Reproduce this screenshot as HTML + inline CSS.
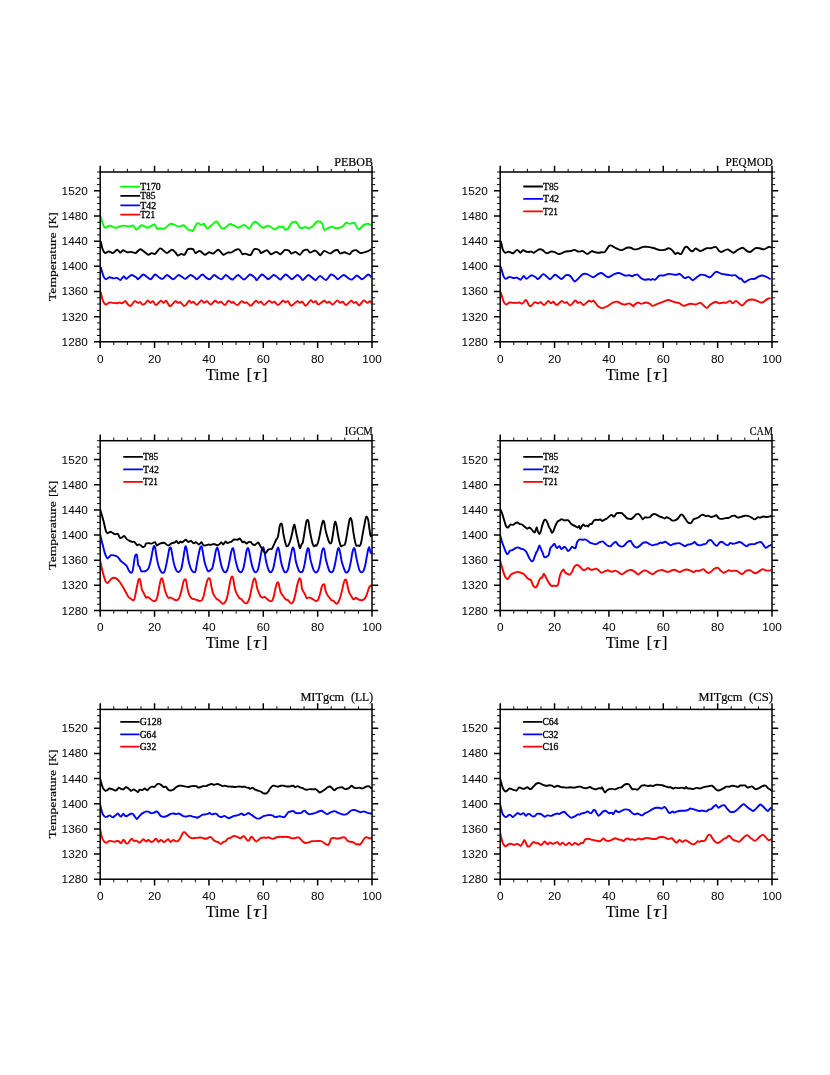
<!DOCTYPE html>
<html lang="en">
<head>
<meta charset="utf-8">
<title>Temperature time series - six model panels</title>
<style>
html, body { margin: 0; padding: 0; background: #ffffff; }
body { width: 830px; height: 1075px; overflow: hidden; font-family: "Liberation Sans", sans-serif; }
svg { display: block; will-change: transform; }
.frame { fill: none; stroke: #000; stroke-width: 1.5; }
.tM { fill: none; stroke: #000; stroke-width: 1.5; }
.tm { fill: none; stroke: #000; stroke-width: 0.95; }
.data path { fill: none; stroke-width: 1.9; stroke-linejoin: round; stroke-linecap: butt; }
.ll { stroke-width: 1.8; stroke-linecap: round; }
.tl { font-family: "Liberation Sans", sans-serif; font-size: 11px; fill: #000; }
.xt { font-family: "Liberation Serif", serif; font-size: 15.8px; fill: #000; stroke: #000; stroke-width: 0.12px; }
.xt .tau { font-style: italic; font-size: 17px; stroke-width: 0.1px; }
.xt .br { font-size: 17.4px; }
.yt { font-family: "Liberation Serif", serif; font-size: 11.4px; fill: #000; stroke: #000; stroke-width: 0.2px; }
.pt { font-family: "Liberation Serif", serif; font-size: 11.6px; fill: #000; stroke: #000; stroke-width: 0.2px; }
.lt { font-family: "Liberation Serif", serif; font-size: 9.4px; fill: #000; stroke: #000; stroke-width: 0.3px; }
</style>
</head>
<body>
<svg width="830" height="1075" viewBox="0 0 830 1075">
<defs><clipPath id="clip0"><rect x="100.2" y="172" width="271.8" height="169.8"/></clipPath><clipPath id="clip1"><rect x="500.2" y="172" width="271.8" height="169.8"/></clipPath><clipPath id="clip2"><rect x="100.2" y="440.7" width="271.8" height="169.8"/></clipPath><clipPath id="clip3"><rect x="500.2" y="440.7" width="271.8" height="169.8"/></clipPath><clipPath id="clip4"><rect x="100.2" y="709.4" width="271.8" height="169.8"/></clipPath><clipPath id="clip5"><rect x="500.2" y="709.4" width="271.8" height="169.8"/></clipPath></defs>
<rect x="0" y="0" width="830" height="1075" fill="#ffffff"/>
<g class="panel" id="p0">
<g class="data" clip-path="url(#clip0)">
<path d="M100.72 291.93C100.98 292.98 102.18 298.82 102.75 300.36C103.32 301.9 104.75 303.76 105.28 304.24C105.8 304.73 106.44 304.47 106.96 304.24C107.49 304.01 108.76 302.55 109.49 302.39C110.23 302.22 111.92 302.79 112.87 302.89C113.82 303 116.24 303.29 117.08 303.23C117.93 303.17 118.98 302.39 119.61 302.39C120.25 302.39 121.41 303.38 122.14 303.23C122.88 303.08 124.78 301.04 125.52 301.2C126.26 301.37 127.42 303.99 128.05 304.58C128.68 305.17 129.73 306.35 130.58 305.93C131.42 305.51 133.85 301.58 134.8 301.2C135.74 300.83 137.49 302.79 138.17 302.89C138.84 303 139.67 301.84 140.19 302.05C140.72 302.26 141.8 304.37 142.39 304.58C142.98 304.79 144.22 304.26 144.92 303.73C145.61 303.21 147.28 300.47 147.95 300.36C148.63 300.26 149.68 302.79 150.31 302.89C150.95 303 152.32 300.93 153.01 301.2C153.71 301.48 154.89 305.15 155.88 305.08C156.87 305.02 159.99 300.97 160.94 300.7C161.89 300.42 162.84 302.89 163.47 302.89C164.1 302.89 165.26 300.34 166 300.7C166.74 301.06 168.74 305.13 169.37 305.76C170.01 306.39 170.32 306.33 171.06 305.76C171.8 305.19 174.37 301.56 175.28 301.2C176.18 300.85 177.68 302.79 178.31 302.89C178.95 303 179.66 301.69 180.34 302.05C181.01 302.41 182.97 305.44 183.71 305.76C184.45 306.08 185.57 305.21 186.24 304.58C186.92 303.95 188.48 300.91 189.11 300.7C189.74 300.49 190.75 302.77 191.3 302.89C191.85 303.02 192.8 301.46 193.49 301.71C194.19 301.96 195.88 305.08 196.87 304.92C197.86 304.75 200.54 300.61 201.42 300.36C202.31 300.11 203.26 302.79 203.95 302.89C204.65 303 206.14 300.99 206.99 301.2C207.83 301.42 209.71 304.64 210.7 304.58C211.69 304.52 213.97 300.91 214.92 300.7C215.86 300.49 217.55 302.77 218.29 302.89C219.03 303.02 219.98 301.44 220.82 301.71C221.66 301.98 224.09 305.21 225.04 305.08C225.98 304.96 227.57 300.97 228.41 300.7C229.25 300.42 231.15 302.77 231.78 302.89C232.42 303.02 233.19 301.71 233.47 301.71C233.75 301.71 233.51 302.47 234 302.89C234.49 303.31 236.42 305.3 237.37 305.08C238.32 304.87 240.7 301.48 241.59 301.2C242.48 300.93 243.83 302.74 244.46 302.89C245.09 303.04 245.85 302.03 246.65 302.39C247.45 302.74 249.71 305.97 250.87 305.76C252.03 305.55 254.98 301.06 255.93 300.7C256.88 300.34 257.83 302.77 258.46 302.89C259.09 303.02 260.25 301.46 260.99 301.71C261.73 301.96 263.35 305.04 264.36 304.92C265.37 304.79 268.14 300.95 269.08 300.7C270.03 300.45 271.28 302.77 271.95 302.89C272.63 303.02 273.7 301.44 274.48 301.71C275.26 301.98 277.14 305.21 278.19 305.08C279.25 304.96 282.01 301.04 282.92 300.7C283.82 300.36 284.81 302.32 285.45 302.39C286.08 302.45 287.24 300.78 287.98 301.2C288.71 301.63 290.19 305.76 291.35 305.76C292.51 305.76 296.2 301.56 297.25 301.2C298.31 300.85 299.15 302.83 299.78 302.89C300.42 302.95 301.58 301.35 302.31 301.71C303.05 302.07 304.63 305.93 305.69 305.76C306.74 305.59 309.8 300.78 310.75 300.36C311.7 299.94 312.64 302.28 313.28 302.39C313.91 302.49 315.17 300.93 315.81 301.2C316.44 301.48 317.28 304.64 318.34 304.58C319.39 304.52 323.19 300.91 324.24 300.7C325.3 300.49 326.14 302.77 326.77 302.89C327.4 303.02 328.56 301.5 329.3 301.71C330.04 301.92 331.68 304.75 332.67 304.58C333.67 304.41 336.28 300.57 337.23 300.36C338.18 300.15 339.57 302.72 340.27 302.89C340.96 303.06 342.06 301.44 342.8 301.71C343.53 301.98 345.11 305.21 346.17 305.08C347.22 304.96 350.28 300.97 351.23 300.7C352.18 300.42 353.13 302.72 353.76 302.89C354.39 303.06 355.61 301.73 356.29 302.05C356.96 302.36 358.21 305.63 359.16 305.42C360.11 305.21 362.87 300.68 363.88 300.36C364.89 300.05 366.52 302.79 367.25 302.89C367.99 303 369.26 301.2 369.78 301.2C370.31 301.2 371.26 302.68 371.47 302.89" stroke="#ff0000"/>
<path d="M100.72 267.07C101.08 268.27 102.92 275.17 103.59 276.69C104.27 278.2 105.38 279.15 106.12 279.22C106.86 279.28 108.55 277.3 109.49 277.19C110.44 277.09 112.76 278.29 113.71 278.37C114.66 278.46 116.24 277.66 117.08 277.87C117.93 278.08 119.61 280.27 120.46 280.06C121.3 279.85 123.09 276.33 123.83 276.18C124.57 276.03 125.41 279.03 126.36 278.88C127.31 278.73 130.16 275.17 131.42 275C132.69 274.83 135.64 277 136.48 277.53C137.33 278.06 137.33 279.6 138.17 279.22C139.01 278.84 142.17 274.81 143.23 274.49C144.28 274.18 145.65 276.1 146.6 276.69C147.55 277.28 149.77 279.49 150.82 279.22C151.87 278.94 153.98 274.7 155.04 274.49C156.09 274.28 158.3 276.98 159.25 277.53C160.2 278.08 161.68 279.2 162.63 278.88C163.58 278.56 165.79 275.13 166.84 275C167.9 274.87 170.22 277.34 171.06 277.87C171.9 278.39 172.64 279.58 173.59 279.22C174.54 278.86 177.49 275.21 178.65 275C179.81 274.79 182.02 277.05 182.87 277.53C183.71 278.02 184.45 279.2 185.4 278.88C186.35 278.56 189.3 275.17 190.46 275C191.62 274.83 193.83 277 194.67 277.53C195.52 278.06 196.26 279.6 197.2 279.22C198.15 278.84 201.11 274.66 202.27 274.49C203.42 274.33 205.53 277.28 206.48 277.87C207.43 278.46 208.91 279.58 209.86 279.22C210.8 278.86 213.02 275.17 214.07 275C215.13 274.83 217.34 277.34 218.29 277.87C219.24 278.39 220.71 279.58 221.66 279.22C222.61 278.86 224.83 275.11 225.88 275C226.93 274.89 229.25 277.8 230.1 278.37C230.94 278.94 232.14 279.55 232.63 279.55C233.11 279.55 233.3 278.94 234 278.37C234.7 277.8 236.95 274.85 238.22 275C239.48 275.15 242.64 279.62 244.12 279.55C245.6 279.49 248.65 274.7 250.02 274.49C251.39 274.28 254.24 277.17 255.08 277.87C255.93 278.56 255.93 280.48 256.77 280.06C257.61 279.64 260.67 274.81 261.83 274.49C262.99 274.18 265.2 276.94 266.05 277.53C266.89 278.12 267.63 279.53 268.58 279.22C269.53 278.9 272.48 275.21 273.64 275C274.8 274.79 277.01 276.96 277.86 277.53C278.7 278.1 279.44 279.93 280.39 279.55C281.33 279.17 284.29 274.75 285.45 274.49C286.61 274.24 288.82 276.94 289.66 277.53C290.51 278.12 291.24 279.53 292.19 279.22C293.14 278.9 296.2 275.21 297.25 275C298.31 274.79 299.93 276.9 300.63 277.53C301.32 278.16 301.87 280.38 302.82 280.06C303.77 279.74 307.02 275.27 308.22 275C309.42 274.73 311.48 277.23 312.43 277.87C313.38 278.5 314.86 280.31 315.81 280.06C316.76 279.81 318.76 275.84 320.02 275.84C321.29 275.84 324.56 280.23 325.93 280.06C327.3 279.89 329.83 274.92 330.99 274.49C332.15 274.07 334.36 276.1 335.2 276.69C336.05 277.28 336.68 279.43 337.73 279.22C338.79 279.01 342.27 275.11 343.64 275C345.01 274.89 347.64 277.8 348.7 278.37C349.75 278.94 351.06 279.91 352.07 279.55C353.08 279.2 355.53 275.55 356.8 275.51C358.06 275.46 360.78 279.34 362.19 279.22C363.61 279.09 366.94 274.75 368.1 274.49C369.26 274.24 371.05 276.86 371.47 277.19" stroke="#0000ff"/>
<path d="M100.72 241.27C100.98 242.32 102.18 248.22 102.75 249.7C103.32 251.17 104.54 252.86 105.28 253.07C106.02 253.28 107.7 251.39 108.65 251.39C109.6 251.39 111.81 253.28 112.87 253.07C113.92 252.86 116.14 249.76 117.08 249.7C118.03 249.64 119.72 252.5 120.46 252.57C121.2 252.63 122.14 250.25 122.99 250.2C123.83 250.16 126.15 252.02 127.2 252.23C128.26 252.44 130.37 251.79 131.42 251.89C132.48 252 134.54 253.41 135.64 253.07C136.73 252.73 139.03 249.3 140.19 249.19C141.35 249.09 143.9 251.53 144.92 252.23C145.93 252.92 147.45 254.65 148.29 254.76C149.13 254.86 150.82 253.18 151.66 253.07C152.51 252.97 154.02 254.48 155.04 253.92C156.05 253.35 158.81 249.05 159.76 248.52C160.71 247.99 161.74 249.13 162.63 249.7C163.51 250.27 165.68 253.07 166.84 253.07C168 253.07 170.85 249.8 171.9 249.7C172.96 249.59 174.54 251.49 175.28 252.23C176.02 252.97 177.07 255.39 177.81 255.6C178.55 255.81 180.34 254.02 181.18 253.92C182.02 253.81 183.71 255.35 184.55 254.76C185.4 254.17 186.87 249.89 187.93 249.19C188.98 248.5 192.04 248.71 192.99 249.19C193.94 249.68 194.67 252.86 195.52 253.07C196.36 253.28 198.58 250.67 199.73 250.88C200.89 251.09 203.64 254.59 204.8 254.76C205.95 254.93 207.96 252.38 209.01 252.23C210.07 252.08 212.07 253.89 213.23 253.58C214.39 253.26 217.02 249.55 218.29 249.7C219.55 249.85 222.19 254.4 223.35 254.76C224.51 255.12 226.62 252.84 227.57 252.57C228.52 252.29 230.14 252.78 230.94 252.57C231.74 252.36 233.2 251.3 234 250.88C234.8 250.46 236.64 249.28 237.37 249.19C238.11 249.11 239.27 249.57 239.9 250.2C240.54 250.84 241.8 253.83 242.43 254.25C243.07 254.67 244.23 253.52 244.96 253.58C245.7 253.64 247.6 254.61 248.34 254.76C249.08 254.91 250.13 255.45 250.87 254.76C251.61 254.06 253.19 249.76 254.24 249.19C255.3 248.62 258.46 249.72 259.3 250.2C260.14 250.69 260.04 253.07 260.99 253.07C261.94 253.07 265.63 250.06 266.89 250.2C268.16 250.35 269.95 254.04 271.11 254.25C272.27 254.46 275.01 251.89 276.17 251.89C277.33 251.89 279.33 254.46 280.39 254.25C281.44 254.04 283.55 250.67 284.6 250.2C285.66 249.74 287.98 250.12 288.82 250.54C289.66 250.96 290.51 253.41 291.35 253.58C292.19 253.75 294.51 251.74 295.57 251.89C296.62 252.04 298.83 254.89 299.78 254.76C300.73 254.63 302.21 251.51 303.16 250.88C304.11 250.25 306.53 249.49 307.37 249.7C308.22 249.91 308.95 252.46 309.9 252.57C310.85 252.67 314.02 250.58 314.96 250.54C315.91 250.5 316.82 251.64 317.49 252.23C318.17 252.82 319.52 255.43 320.36 255.27C321.2 255.1 323.02 251.09 324.24 250.88C325.46 250.67 328.88 253.62 330.14 253.58C331.41 253.54 333.41 250.96 334.36 250.54C335.31 250.12 337 249.83 337.73 250.2C338.47 250.58 339.42 253.33 340.27 253.58C341.11 253.83 343.32 252.14 344.48 252.23C345.64 252.31 348.59 254.36 349.54 254.25C350.49 254.15 351.23 251.89 352.07 251.39C352.92 250.88 355.23 249.99 356.29 250.2C357.34 250.42 359.14 252.92 360.51 253.07C361.88 253.22 365.88 251.87 367.25 251.39C368.62 250.9 370.94 249.47 371.47 249.19" stroke="#000"/>
<path d="M100.72 216.47C100.98 217.36 102.18 222.14 102.75 223.55C103.32 224.97 104.43 227.52 105.28 227.77C106.12 228.02 108.55 225.68 109.49 225.58C110.44 225.47 112.02 226.65 112.87 226.93C113.71 227.2 115.4 227.83 116.24 227.77C117.08 227.71 118.56 226.7 119.61 226.42C120.67 226.15 123.52 225.56 124.67 225.58C125.83 225.6 127.84 226.59 128.89 226.59C129.95 226.59 132.16 225.22 133.11 225.58C134.06 225.94 135.43 229.5 136.48 229.46C137.54 229.42 140.59 225.66 141.54 225.24C142.49 224.82 143.33 225.77 144.07 226.08C144.81 226.4 146.6 227.77 147.45 227.77C148.29 227.77 149.98 226.51 150.82 226.08C151.66 225.66 153.35 224.04 154.19 224.4C155.04 224.76 156.83 228.47 157.57 228.95C158.3 229.44 159.25 228.32 160.1 228.28C160.94 228.23 163.05 229.16 164.31 228.61C165.58 228.07 169.06 224.42 170.22 223.89C171.38 223.36 172.54 224.06 173.59 224.4C174.64 224.73 177.39 226.48 178.65 226.59C179.92 226.7 182.55 224.88 183.71 225.24C184.87 225.6 186.98 228.83 187.93 229.46C188.88 230.09 190.67 230.15 191.3 230.3C191.93 230.45 192.25 231.52 192.99 230.64C193.73 229.75 196.15 223.93 197.2 223.22C198.26 222.5 200.58 224.82 201.42 224.9C202.27 224.99 203.21 223.43 203.95 223.89C204.69 224.36 206.27 228.55 207.33 228.61C208.38 228.68 211.23 225.3 212.39 224.4C213.55 223.49 215.44 220.88 216.6 221.36C217.76 221.85 220.61 227.48 221.66 228.28C222.72 229.08 223.98 228.32 225.04 227.77C226.09 227.22 229.15 224.21 230.1 223.89C231.05 223.58 232.14 225.07 232.63 225.24C233.11 225.41 233.3 224.92 234 225.24C234.7 225.56 236.95 227.81 238.22 227.77C239.48 227.73 242.75 224.8 244.12 224.9C245.49 225.01 248.13 228.78 249.18 228.61C250.23 228.45 251.71 224.4 252.55 223.55C253.4 222.71 254.66 221.34 255.93 221.87C257.19 222.39 261.09 227.31 262.67 227.77C264.26 228.23 267.1 225.37 268.58 225.58C270.05 225.79 273.22 229.33 274.48 229.46C275.75 229.58 277.86 226.86 278.7 226.59C279.54 226.32 280.66 227.27 281.23 227.27C281.8 227.27 282.83 226.32 283.25 226.59C283.67 226.86 284.01 229.2 284.6 229.46C285.19 229.71 287.13 229.39 287.98 228.61C288.82 227.83 290.34 224.06 291.35 223.22C292.36 222.37 295.02 221.3 296.07 221.87C297.13 222.44 298.9 227.03 299.78 227.77C300.67 228.51 302.42 227.88 303.16 227.77C303.89 227.67 305.05 226.86 305.69 226.93C306.32 226.99 307.37 228.32 308.22 228.28C309.06 228.23 311.38 227.39 312.43 226.59C313.49 225.79 315.7 222.5 316.65 221.87C317.6 221.23 319.29 221.21 320.02 221.53C320.76 221.85 322.03 223.34 322.55 224.4C323.08 225.45 323.61 229.48 324.24 229.96C324.87 230.45 326.67 228.7 327.61 228.28C328.56 227.86 330.88 226.59 331.83 226.59C332.78 226.59 333.94 228.23 335.2 228.28C336.47 228.32 340.58 227.62 341.95 226.93C343.32 226.23 345.22 223.09 346.17 222.71C347.12 222.33 348.55 223.89 349.54 223.89C350.53 223.89 353.25 222.44 354.1 222.71C354.94 222.98 355.7 225.24 356.29 226.08C356.88 226.93 357.87 229.61 358.82 229.46C359.77 229.31 362.72 225.6 363.88 224.9C365.04 224.21 367.15 223.85 368.1 223.89C369.05 223.93 371.05 225.07 371.47 225.24" stroke="#00ff00"/>
</g>
<path class="tM" d="M100.2 341.8L100.2 348 M100.2 172L100.2 165.8 M154.56 341.8L154.56 348 M154.56 172L154.56 165.8 M208.92 341.8L208.92 348 M208.92 172L208.92 165.8 M263.28 341.8L263.28 348 M263.28 172L263.28 165.8 M317.64 341.8L317.64 348 M317.64 172L317.64 165.8 M372 341.8L372 348 M372 172L372 165.8 M100.2 341.8L94 341.8 M372 341.8L378.2 341.8 M100.2 316.64L94 316.64 M372 316.64L378.2 316.64 M100.2 291.49L94 291.49 M372 291.49L378.2 291.49 M100.2 266.33L94 266.33 M372 266.33L378.2 266.33 M100.2 241.18L94 241.18 M372 241.18L378.2 241.18 M100.2 216.02L94 216.02 M372 216.02L378.2 216.02 M100.2 190.87L94 190.87 M372 190.87L378.2 190.87"/>
<path class="tm" d="M113.79 341.8L113.79 345 M113.79 172L113.79 168.8 M127.38 341.8L127.38 345 M127.38 172L127.38 168.8 M140.97 341.8L140.97 345 M140.97 172L140.97 168.8 M168.15 341.8L168.15 345 M168.15 172L168.15 168.8 M181.74 341.8L181.74 345 M181.74 172L181.74 168.8 M195.33 341.8L195.33 345 M195.33 172L195.33 168.8 M222.51 341.8L222.51 345 M222.51 172L222.51 168.8 M236.1 341.8L236.1 345 M236.1 172L236.1 168.8 M249.69 341.8L249.69 345 M249.69 172L249.69 168.8 M276.87 341.8L276.87 345 M276.87 172L276.87 168.8 M290.46 341.8L290.46 345 M290.46 172L290.46 168.8 M304.05 341.8L304.05 345 M304.05 172L304.05 168.8 M331.23 341.8L331.23 345 M331.23 172L331.23 168.8 M344.82 341.8L344.82 345 M344.82 172L344.82 168.8 M358.41 341.8L358.41 345 M358.41 172L358.41 168.8 M100.2 335.51L97 335.51 M372 335.51L375.2 335.51 M100.2 329.22L97 329.22 M372 329.22L375.2 329.22 M100.2 322.93L97 322.93 M372 322.93L375.2 322.93 M100.2 310.36L97 310.36 M372 310.36L375.2 310.36 M100.2 304.07L97 304.07 M372 304.07L375.2 304.07 M100.2 297.78L97 297.78 M372 297.78L375.2 297.78 M100.2 285.2L97 285.2 M372 285.2L375.2 285.2 M100.2 278.91L97 278.91 M372 278.91L375.2 278.91 M100.2 272.62L97 272.62 M372 272.62L375.2 272.62 M100.2 260.04L97 260.04 M372 260.04L375.2 260.04 M100.2 253.76L97 253.76 M372 253.76L375.2 253.76 M100.2 247.47L97 247.47 M372 247.47L375.2 247.47 M100.2 234.89L97 234.89 M372 234.89L375.2 234.89 M100.2 228.6L97 228.6 M372 228.6L375.2 228.6 M100.2 222.31L97 222.31 M372 222.31L375.2 222.31 M100.2 209.73L97 209.73 M372 209.73L375.2 209.73 M100.2 203.44L97 203.44 M372 203.44L375.2 203.44 M100.2 197.16L97 197.16 M372 197.16L375.2 197.16 M100.2 184.58L97 184.58 M372 184.58L375.2 184.58 M100.2 178.29L97 178.29 M372 178.29L375.2 178.29 M100.2 172L97 172 M372 172L375.2 172"/>
<rect class="frame" x="100.2" y="172" width="271.8" height="169.8"/>
<text class="tl" x="100.2" y="362.5" text-anchor="middle" textLength="6.6" lengthAdjust="spacingAndGlyphs">0</text>
<text class="tl" x="154.56" y="362.5" text-anchor="middle" textLength="13.2" lengthAdjust="spacingAndGlyphs">20</text>
<text class="tl" x="208.92" y="362.5" text-anchor="middle" textLength="13.2" lengthAdjust="spacingAndGlyphs">40</text>
<text class="tl" x="263.28" y="362.5" text-anchor="middle" textLength="13.2" lengthAdjust="spacingAndGlyphs">60</text>
<text class="tl" x="317.64" y="362.5" text-anchor="middle" textLength="13.2" lengthAdjust="spacingAndGlyphs">80</text>
<text class="tl" x="372" y="362.5" text-anchor="middle" textLength="19.6" lengthAdjust="spacingAndGlyphs">100</text>
<text class="tl" x="87.8" y="345.8" text-anchor="end" textLength="26.2" lengthAdjust="spacingAndGlyphs">1280</text>
<text class="tl" x="87.8" y="320.64" text-anchor="end" textLength="26.2" lengthAdjust="spacingAndGlyphs">1320</text>
<text class="tl" x="87.8" y="295.49" text-anchor="end" textLength="26.2" lengthAdjust="spacingAndGlyphs">1360</text>
<text class="tl" x="87.8" y="270.33" text-anchor="end" textLength="26.2" lengthAdjust="spacingAndGlyphs">1400</text>
<text class="tl" x="87.8" y="245.18" text-anchor="end" textLength="26.2" lengthAdjust="spacingAndGlyphs">1440</text>
<text class="tl" x="87.8" y="220.02" text-anchor="end" textLength="26.2" lengthAdjust="spacingAndGlyphs">1480</text>
<text class="tl" x="87.8" y="194.87" text-anchor="end" textLength="26.2" lengthAdjust="spacingAndGlyphs">1520</text>
<text class="xt" y="379.7"><tspan x="205.7" textLength="33.9" lengthAdjust="spacingAndGlyphs">Time</tspan><tspan class="br" x="246.4">[</tspan><tspan class="tau" x="253.1" textLength="7.6" lengthAdjust="spacingAndGlyphs">&#964;</tspan><tspan class="br" x="261.7">]</tspan></text>
<text class="yt" transform="translate(56.2 256.9) rotate(-90)"><tspan x="-44.1" textLength="68.5" lengthAdjust="spacingAndGlyphs">Temperature</tspan><tspan x="28.9" textLength="15.6" lengthAdjust="spacingAndGlyphs">[K]</tspan></text>
<text class="pt" x="372.9" y="165.9" text-anchor="end" textLength="38.6" lengthAdjust="spacingAndGlyphs">PEBOB</text>
<line class="ll" x1="121.1" y1="186.65" x2="139.4" y2="186.65" stroke="#00ff00"/>
<text class="lt" x="140.2" y="189.85" textLength="20.5" lengthAdjust="spacingAndGlyphs">T170</text>
<line class="ll" x1="121.1" y1="195.95" x2="139.4" y2="195.95" stroke="#000"/>
<text class="lt" x="140.2" y="199.15" textLength="15.3" lengthAdjust="spacingAndGlyphs">T85</text>
<line class="ll" x1="121.1" y1="205.3" x2="139.4" y2="205.3" stroke="#0000ff"/>
<text class="lt" x="140.2" y="208.5" textLength="16.0" lengthAdjust="spacingAndGlyphs">T42</text>
<line class="ll" x1="121.1" y1="214.65" x2="139.4" y2="214.65" stroke="#ff0000"/>
<text class="lt" x="140.2" y="217.85" textLength="14.9" lengthAdjust="spacingAndGlyphs">T21</text>
</g>
<g class="panel" id="p1">
<g class="data" clip-path="url(#clip1)">
<path d="M500.72 292.07C501.08 293.27 502.92 300.13 503.59 301.69C504.27 303.25 505.38 304.45 506.12 304.55C506.86 304.66 508.65 302.74 509.49 302.53C510.34 302.32 511.92 302.83 512.87 302.87C513.82 302.91 516.24 302.91 517.08 302.87C517.93 302.83 518.98 302.42 519.61 302.53C520.25 302.64 521.34 304.03 522.14 303.71C522.95 303.39 525.18 299.83 526.02 300C526.87 300.17 528.26 304.32 528.89 305.06C529.52 305.8 530.35 306.26 531.08 305.9C531.82 305.55 533.91 302.51 534.8 302.19C535.68 301.88 537.43 303.37 538.17 303.37C538.91 303.37 539.96 301.98 540.7 302.19C541.44 302.4 543.12 305.23 544.07 305.06C545.02 304.89 547.45 301.05 548.29 300.84C549.13 300.63 550.19 303.27 550.82 303.37C551.45 303.48 552.61 301.48 553.35 301.69C554.09 301.9 555.67 305.17 556.72 305.06C557.78 304.95 560.83 301.12 561.78 300.84C562.73 300.57 563.68 302.7 564.31 302.87C564.95 303.04 566.11 301.88 566.84 302.19C567.58 302.51 569.16 305.61 570.22 305.4C571.27 305.19 574.33 300.82 575.28 300.51C576.23 300.19 577.17 302.66 577.81 302.87C578.44 303.08 579.6 301.92 580.34 302.19C581.08 302.47 582.66 305.23 583.71 305.06C584.77 304.89 587.82 301.27 588.77 300.84C589.72 300.42 590.67 301.69 591.3 301.69C591.93 301.69 592.99 300.27 593.83 300.84C594.67 301.41 596.99 305.33 598.05 306.24C599.1 307.15 601.11 308.1 602.27 308.1C603.42 308.1 606.06 306.89 607.33 306.24C608.59 305.59 611.12 303.44 612.39 302.87C613.65 302.3 616.18 301.52 617.45 301.69C618.71 301.86 621.56 303.86 622.51 304.22C623.45 304.58 624.19 304.66 625.04 304.55C625.88 304.45 628.2 303.16 629.25 303.37C630.31 303.58 632.88 306.03 633.47 306.24C634.06 306.45 633.41 305.52 634 305.06C634.59 304.6 637.27 302.68 638.22 302.53C639.17 302.38 640.64 303.88 641.59 303.88C642.54 303.88 644.75 302.53 645.81 302.53C646.86 302.53 649.18 303.46 650.02 303.88C650.87 304.3 651.61 305.9 652.55 305.9C653.5 305.9 656.24 304.41 657.61 303.88C658.98 303.35 662.15 302.17 663.52 301.69C664.89 301.2 667.21 299.94 668.58 300C669.95 300.06 673.22 301.83 674.48 302.19C675.75 302.55 677.54 302.4 678.7 302.87C679.86 303.33 682.28 305.8 683.76 305.9C685.23 306.01 689.03 303.88 690.51 303.71C691.98 303.54 694.3 304.66 695.57 304.55C696.83 304.45 699.26 302.45 700.63 302.87C702 303.29 705.27 307.76 706.53 307.93C707.8 308.1 709.59 305 710.75 304.22C711.91 303.44 714.75 301.79 715.81 301.69C716.86 301.58 718.23 303.27 719.18 303.37C720.13 303.48 722.55 302.59 723.4 302.53C724.24 302.47 725.08 303.08 725.93 302.87C726.77 302.66 729.3 300.78 730.14 300.84C730.99 300.91 731.94 303.37 732.67 303.37C733.41 303.37 734.89 300.57 736.05 300.84C737.21 301.12 740.58 305.57 741.95 305.57C743.32 305.57 745.75 301.6 747.01 300.84C748.28 300.08 750.81 299.49 752.07 299.49C753.34 299.49 756.08 300.46 757.13 300.84C758.19 301.22 759.77 302.36 760.51 302.53C761.24 302.7 762.19 302.61 763.04 302.19C763.88 301.77 766.3 299.68 767.25 299.16C768.2 298.63 770.2 298.12 770.63 297.98" stroke="#ff0000"/>
<path d="M500.72 266.77C501.08 267.97 502.96 274.87 503.59 276.39C504.22 277.9 505.05 278.85 505.78 278.92C506.52 278.98 508.5 277 509.49 276.89C510.48 276.79 512.76 277.99 513.71 278.07C514.66 278.16 516.24 277.36 517.08 277.57C517.93 277.78 519.61 279.97 520.46 279.76C521.3 279.55 523.09 275.98 523.83 275.88C524.57 275.77 525.41 279 526.36 278.92C527.31 278.83 530.26 275.42 531.42 275.2C532.58 274.99 534.8 276.77 535.64 277.23C536.48 277.69 537.22 279.3 538.17 278.92C539.12 278.54 542.17 274.51 543.23 274.19C544.28 273.88 545.76 275.75 546.6 276.39C547.45 277.02 548.92 279.46 549.98 279.25C551.03 279.04 553.88 274.91 555.04 274.7C556.2 274.49 558.41 277.04 559.25 277.57C560.1 278.09 560.94 279.21 561.78 278.92C562.63 278.62 564.95 275.58 566 275.2C567.05 274.83 569.16 275.1 570.22 275.88C571.27 276.66 573.48 281.07 574.43 281.45C575.38 281.83 576.75 279.82 577.81 278.92C578.86 278.01 581.71 274.78 582.87 274.19C584.03 273.6 585.82 273.81 587.08 274.19C588.35 274.57 591.72 277.17 592.99 277.23C594.25 277.29 596.15 275.23 597.2 274.7C598.26 274.17 600.05 272.7 601.42 273.01C602.79 273.33 606.59 277.08 608.17 277.23C609.75 277.38 612.7 274.72 614.07 274.19C615.44 273.67 617.76 272.84 619.13 273.01C620.5 273.18 623.77 275.27 625.04 275.54C626.3 275.82 628.3 275.1 629.25 275.2C630.2 275.31 632.03 276.39 632.63 276.39C633.22 276.39 633.41 275.42 634 275.2C634.59 274.99 636.42 274.28 637.37 274.7C638.32 275.12 640.64 277.95 641.59 278.58C642.54 279.21 644.12 279.67 644.96 279.76C645.81 279.84 647.6 279.25 648.34 279.25C649.08 279.25 650.3 279.8 650.87 279.76C651.44 279.72 652.36 278.92 652.89 278.92C653.42 278.92 654.28 280.18 655.08 279.76C655.89 279.34 658.25 276.07 659.3 275.54C660.36 275.02 662.36 275.75 663.52 275.54C664.68 275.33 667.21 273.96 668.58 273.86C669.95 273.75 673.43 274.59 674.48 274.7C675.54 274.8 676.34 274.8 677.01 274.7C677.69 274.59 678.93 273.43 679.88 273.86C680.83 274.28 683.59 277.69 684.6 278.07C685.61 278.45 687.34 276.95 687.98 276.89C688.61 276.83 689.07 277.14 689.66 277.57C690.25 277.99 691.75 280.35 692.7 280.27C693.65 280.18 696.26 277.59 697.25 276.89C698.24 276.2 699.68 274.91 700.63 274.7C701.58 274.49 703.89 274.93 704.84 275.2C705.79 275.48 707.48 276.68 708.22 276.89C708.95 277.1 709.8 277.52 710.75 276.89C711.7 276.26 714.44 272.21 715.81 271.83C717.18 271.45 720.23 273.5 721.71 273.86C723.19 274.21 726.35 274.49 727.61 274.7C728.88 274.91 730.88 275.48 731.83 275.54C732.78 275.61 734.26 274.83 735.2 275.2C736.15 275.58 738.68 278.16 739.42 278.58C740.16 279 740.48 278.11 741.11 278.58C741.74 279.04 743.53 282.14 744.48 282.29C745.43 282.44 747.75 280.18 748.7 279.76C749.65 279.34 751.33 279.02 752.07 278.92C752.81 278.81 753.76 279.23 754.6 278.92C755.45 278.6 757.87 276.81 758.82 276.39C759.77 275.96 761.24 275.48 762.19 275.54C763.14 275.61 765.36 276.43 766.41 276.89C767.46 277.36 770.1 278.96 770.63 279.25" stroke="#0000ff"/>
<path d="M500.72 240.96C500.98 242.02 502.18 247.92 502.75 249.4C503.32 250.87 504.54 252.5 505.28 252.77C506.02 253.05 507.7 251.53 508.65 251.59C509.6 251.65 511.81 253.49 512.87 253.28C513.92 253.07 516.14 249.97 517.08 249.9C518.03 249.84 519.72 252.73 520.46 252.77C521.2 252.81 522.14 250.35 522.99 250.24C523.83 250.14 526.15 251.76 527.2 251.93C528.26 252.1 530.58 251.48 531.42 251.59C532.27 251.7 533 253.05 533.95 252.77C534.9 252.5 537.96 249.76 539.01 249.4C540.07 249.04 541.44 249.42 542.39 249.9C543.33 250.39 545.55 253.07 546.6 253.28C547.66 253.49 549.87 251.76 550.82 251.59C551.77 251.42 553.24 251.61 554.19 251.93C555.14 252.24 557.57 253.91 558.41 254.12C559.25 254.33 560.1 253.93 560.94 253.61C561.78 253.3 564 251.91 565.16 251.59C566.32 251.27 569.06 251.3 570.22 251.08C571.38 250.87 573.38 249.84 574.43 249.9C575.49 249.97 577.6 251.44 578.65 251.59C579.7 251.74 581.81 250.79 582.87 251.08C583.92 251.38 585.97 253.95 587.08 253.95C588.2 253.95 590.96 251.34 591.81 251.08C592.65 250.83 593.05 251.72 593.83 251.93C594.61 252.14 597.1 252.73 598.05 252.77C599 252.81 600.58 252.37 601.42 252.27C602.27 252.16 603.85 252.71 604.8 251.93C605.74 251.15 608.17 246.8 609.01 246.02C609.86 245.24 610.7 245.41 611.54 245.69C612.39 245.96 614.7 247.69 615.76 248.22C616.81 248.74 619.13 249.69 619.98 249.9C620.82 250.11 621.66 250.18 622.51 249.9C623.35 249.63 625.67 247.98 626.72 247.71C627.78 247.44 630.03 247.5 630.94 247.71C631.85 247.92 632.98 249.29 634 249.4C635.02 249.5 637.9 248.87 639.06 248.55C640.22 248.24 642.22 247.08 643.28 246.87C644.33 246.66 646.12 246.7 647.49 246.87C648.86 247.04 652.77 247.84 654.24 248.22C655.72 248.6 658.04 249.69 659.3 249.9C660.57 250.11 663.2 250.11 664.36 249.9C665.52 249.69 667.63 248.22 668.58 248.22C669.53 248.22 671.11 249.19 671.95 249.9C672.8 250.62 674.63 253.59 675.33 253.95C676.02 254.31 676.78 252.77 677.52 252.77C678.26 252.77 680.34 254.58 681.23 253.95C682.11 253.32 683.86 248.6 684.6 247.71C685.34 246.83 686.39 246.51 687.13 246.87C687.87 247.23 689.77 250.05 690.51 250.58C691.24 251.11 692.4 251.34 693.04 251.08C693.67 250.83 694.62 248.55 695.57 248.55C696.52 248.55 699.26 251.13 700.63 251.08C702 251.04 705.27 248.58 706.53 248.22C707.8 247.86 709.59 248.39 710.75 248.22C711.91 248.05 714.75 246.51 715.81 246.87C716.86 247.23 718.44 250.45 719.18 251.08C719.92 251.72 720.66 252.14 721.71 251.93C722.77 251.72 726.14 249.29 727.61 249.4C729.09 249.5 732.25 252.71 733.52 252.77C734.78 252.83 736.58 250.54 737.73 249.9C738.89 249.27 741.64 247.56 742.8 247.71C743.95 247.86 746.06 250.56 747.01 251.08C747.96 251.61 749.33 252.29 750.39 251.93C751.44 251.57 754.29 248.68 755.45 248.22C756.61 247.75 758.61 248.07 759.66 248.22C760.72 248.36 762.72 249.57 763.88 249.4C765.04 249.23 767.99 247.08 768.94 246.87C769.89 246.66 771.15 247.61 771.47 247.71" stroke="#000"/>
</g>
<path class="tM" d="M500.2 341.8L500.2 348 M500.2 172L500.2 165.8 M554.56 341.8L554.56 348 M554.56 172L554.56 165.8 M608.92 341.8L608.92 348 M608.92 172L608.92 165.8 M663.28 341.8L663.28 348 M663.28 172L663.28 165.8 M717.64 341.8L717.64 348 M717.64 172L717.64 165.8 M772 341.8L772 348 M772 172L772 165.8 M500.2 341.8L494 341.8 M772 341.8L778.2 341.8 M500.2 316.64L494 316.64 M772 316.64L778.2 316.64 M500.2 291.49L494 291.49 M772 291.49L778.2 291.49 M500.2 266.33L494 266.33 M772 266.33L778.2 266.33 M500.2 241.18L494 241.18 M772 241.18L778.2 241.18 M500.2 216.02L494 216.02 M772 216.02L778.2 216.02 M500.2 190.87L494 190.87 M772 190.87L778.2 190.87"/>
<path class="tm" d="M513.79 341.8L513.79 345 M513.79 172L513.79 168.8 M527.38 341.8L527.38 345 M527.38 172L527.38 168.8 M540.97 341.8L540.97 345 M540.97 172L540.97 168.8 M568.15 341.8L568.15 345 M568.15 172L568.15 168.8 M581.74 341.8L581.74 345 M581.74 172L581.74 168.8 M595.33 341.8L595.33 345 M595.33 172L595.33 168.8 M622.51 341.8L622.51 345 M622.51 172L622.51 168.8 M636.1 341.8L636.1 345 M636.1 172L636.1 168.8 M649.69 341.8L649.69 345 M649.69 172L649.69 168.8 M676.87 341.8L676.87 345 M676.87 172L676.87 168.8 M690.46 341.8L690.46 345 M690.46 172L690.46 168.8 M704.05 341.8L704.05 345 M704.05 172L704.05 168.8 M731.23 341.8L731.23 345 M731.23 172L731.23 168.8 M744.82 341.8L744.82 345 M744.82 172L744.82 168.8 M758.41 341.8L758.41 345 M758.41 172L758.41 168.8 M500.2 335.51L497 335.51 M772 335.51L775.2 335.51 M500.2 329.22L497 329.22 M772 329.22L775.2 329.22 M500.2 322.93L497 322.93 M772 322.93L775.2 322.93 M500.2 310.36L497 310.36 M772 310.36L775.2 310.36 M500.2 304.07L497 304.07 M772 304.07L775.2 304.07 M500.2 297.78L497 297.78 M772 297.78L775.2 297.78 M500.2 285.2L497 285.2 M772 285.2L775.2 285.2 M500.2 278.91L497 278.91 M772 278.91L775.2 278.91 M500.2 272.62L497 272.62 M772 272.62L775.2 272.62 M500.2 260.04L497 260.04 M772 260.04L775.2 260.04 M500.2 253.76L497 253.76 M772 253.76L775.2 253.76 M500.2 247.47L497 247.47 M772 247.47L775.2 247.47 M500.2 234.89L497 234.89 M772 234.89L775.2 234.89 M500.2 228.6L497 228.6 M772 228.6L775.2 228.6 M500.2 222.31L497 222.31 M772 222.31L775.2 222.31 M500.2 209.73L497 209.73 M772 209.73L775.2 209.73 M500.2 203.44L497 203.44 M772 203.44L775.2 203.44 M500.2 197.16L497 197.16 M772 197.16L775.2 197.16 M500.2 184.58L497 184.58 M772 184.58L775.2 184.58 M500.2 178.29L497 178.29 M772 178.29L775.2 178.29 M500.2 172L497 172 M772 172L775.2 172"/>
<rect class="frame" x="500.2" y="172" width="271.8" height="169.8"/>
<text class="tl" x="500.2" y="362.5" text-anchor="middle" textLength="6.6" lengthAdjust="spacingAndGlyphs">0</text>
<text class="tl" x="554.56" y="362.5" text-anchor="middle" textLength="13.2" lengthAdjust="spacingAndGlyphs">20</text>
<text class="tl" x="608.92" y="362.5" text-anchor="middle" textLength="13.2" lengthAdjust="spacingAndGlyphs">40</text>
<text class="tl" x="663.28" y="362.5" text-anchor="middle" textLength="13.2" lengthAdjust="spacingAndGlyphs">60</text>
<text class="tl" x="717.64" y="362.5" text-anchor="middle" textLength="13.2" lengthAdjust="spacingAndGlyphs">80</text>
<text class="tl" x="772" y="362.5" text-anchor="middle" textLength="19.6" lengthAdjust="spacingAndGlyphs">100</text>
<text class="tl" x="487.8" y="345.8" text-anchor="end" textLength="26.2" lengthAdjust="spacingAndGlyphs">1280</text>
<text class="tl" x="487.8" y="320.64" text-anchor="end" textLength="26.2" lengthAdjust="spacingAndGlyphs">1320</text>
<text class="tl" x="487.8" y="295.49" text-anchor="end" textLength="26.2" lengthAdjust="spacingAndGlyphs">1360</text>
<text class="tl" x="487.8" y="270.33" text-anchor="end" textLength="26.2" lengthAdjust="spacingAndGlyphs">1400</text>
<text class="tl" x="487.8" y="245.18" text-anchor="end" textLength="26.2" lengthAdjust="spacingAndGlyphs">1440</text>
<text class="tl" x="487.8" y="220.02" text-anchor="end" textLength="26.2" lengthAdjust="spacingAndGlyphs">1480</text>
<text class="tl" x="487.8" y="194.87" text-anchor="end" textLength="26.2" lengthAdjust="spacingAndGlyphs">1520</text>
<text class="xt" y="379.7"><tspan x="605.7" textLength="33.9" lengthAdjust="spacingAndGlyphs">Time</tspan><tspan class="br" x="646.4">[</tspan><tspan class="tau" x="653.1" textLength="7.6" lengthAdjust="spacingAndGlyphs">&#964;</tspan><tspan class="br" x="661.7">]</tspan></text>
<text class="pt" x="772.9" y="165.9" text-anchor="end" textLength="47.4" lengthAdjust="spacingAndGlyphs">PEQMOD</text>
<line class="ll" x1="524" y1="186.5" x2="542.3" y2="186.5" stroke="#000"/>
<text class="lt" x="543.1" y="189.7" textLength="15.4" lengthAdjust="spacingAndGlyphs">T85</text>
<line class="ll" x1="524" y1="198.9" x2="542.3" y2="198.9" stroke="#0000ff"/>
<text class="lt" x="543.1" y="202.1" textLength="16.0" lengthAdjust="spacingAndGlyphs">T42</text>
<line class="ll" x1="524" y1="211.4" x2="542.3" y2="211.4" stroke="#ff0000"/>
<text class="lt" x="543.1" y="214.6" textLength="14.9" lengthAdjust="spacingAndGlyphs">T21</text>
</g>
<g class="panel" id="p2">
<g class="data" clip-path="url(#clip2)">
<path d="M100.22 560.84C100.44 561.9 101.57 567.39 102.02 569.28C102.48 571.16 103.38 574.4 103.83 575.9C104.28 577.41 105.19 580.42 105.64 581.33C106.09 582.23 106.99 583.13 107.45 583.13C107.9 583.13 108.8 581.85 109.25 581.33C109.7 580.8 110.46 579.37 111.06 578.92C111.66 578.46 113.32 577.71 114.07 577.71C114.83 577.71 116.33 578.31 117.08 578.92C117.84 579.52 119.34 581.48 120.1 582.53C120.85 583.58 122.36 586.07 123.11 587.35C123.86 588.63 125.44 591.57 126.12 592.77C126.8 593.98 127.93 596.23 128.53 596.99C129.13 597.74 130.41 598.39 130.94 598.8C131.47 599.2 132.33 600.17 132.75 600.24C133.17 600.32 133.97 600.18 134.31 599.4C134.66 598.61 135.19 595.56 135.52 593.98C135.85 592.39 136.6 588.48 136.96 586.75C137.33 585.02 138.08 581.1 138.41 580.12C138.74 579.14 139.31 578.54 139.61 578.92C139.92 579.29 140.55 581.85 140.82 583.13C141.09 584.41 141.44 587.95 141.78 589.16C142.13 590.36 143.06 591.72 143.59 592.77C144.12 593.83 145.47 597.06 146 597.59C146.53 598.12 147.28 596.84 147.81 596.99C148.33 597.14 149.54 598.3 150.22 598.8C150.89 599.29 152.55 600.74 153.23 600.96C153.91 601.19 155.11 601.17 155.64 600.6C156.17 600.03 156.99 598.12 157.45 596.39C157.9 594.65 158.83 588.86 159.25 586.75C159.67 584.64 160.47 580.57 160.82 579.52C161.17 578.46 161.72 578.01 162.02 578.31C162.33 578.61 162.9 580.57 163.23 581.93C163.56 583.28 164.27 587.58 164.67 589.16C165.08 590.74 166.03 593.49 166.48 594.58C166.93 595.66 167.76 597.45 168.29 597.83C168.82 598.21 170.02 597.39 170.7 597.59C171.38 597.79 172.96 599.07 173.71 599.4C174.46 599.73 176.05 600.39 176.72 600.24C177.4 600.09 178.53 599.43 179.13 598.19C179.73 596.96 181.02 592.39 181.54 590.36C182.07 588.33 182.93 583.31 183.35 581.93C183.77 580.54 184.57 579.43 184.92 579.28C185.26 579.13 185.79 579.49 186.12 580.72C186.45 581.96 187.16 587.35 187.57 589.16C187.97 590.96 188.85 594.01 189.37 595.18C189.9 596.36 191.18 598.07 191.78 598.55C192.39 599.04 193.67 598.89 194.19 599.04C194.72 599.19 195.62 599.64 196 599.76C196.38 599.88 196.77 599.85 197.23 600C197.68 600.15 199.04 600.96 199.64 600.96C200.24 600.96 201.52 600.72 202.05 600C202.58 599.28 203.4 596.84 203.86 595.18C204.31 593.52 205.21 588.63 205.66 586.75C206.11 584.86 207.05 581.2 207.47 580.12C207.89 579.04 208.69 578.07 209.04 578.07C209.38 578.07 209.94 579.04 210.24 580.12C210.54 581.2 211.11 585.17 211.45 586.75C211.78 588.33 212.48 591.57 212.89 592.77C213.3 593.98 214.25 595.63 214.7 596.39C215.15 597.14 215.98 598.31 216.51 598.8C217.03 599.28 218.34 599.79 218.92 600.24C219.49 600.69 220.6 601.96 221.08 602.41C221.57 602.86 222.29 603.86 222.77 603.86C223.25 603.86 224.44 603.04 224.94 602.41C225.44 601.78 226.3 600.3 226.75 598.8C227.2 597.29 228.1 592.62 228.55 590.36C229.01 588.1 229.94 582.45 230.36 580.72C230.78 578.99 231.58 576.81 231.93 576.51C232.27 576.2 232.83 577.18 233.13 578.31C233.43 579.44 234.01 583.89 234.34 585.54C234.67 587.2 235.38 590.36 235.78 591.57C236.19 592.77 237.14 594.35 237.59 595.18C238.04 596.01 238.95 597.71 239.4 598.19C239.85 598.67 240.68 598.58 241.2 599.04C241.73 599.49 243.06 601.27 243.61 601.81C244.17 602.35 245.17 603.3 245.66 603.37C246.16 603.45 247.09 603.13 247.59 602.41C248.09 601.69 249.16 599.25 249.64 597.59C250.12 595.93 250.99 591.27 251.45 589.16C251.9 587.05 252.83 582.08 253.25 580.72C253.67 579.37 254.47 578.16 254.82 578.31C255.17 578.46 255.72 580.65 256.02 581.93C256.33 583.21 256.87 587.2 257.23 588.55C257.59 589.91 258.51 591.79 258.92 592.77C259.32 593.75 260.06 595.78 260.48 596.39C260.9 596.99 261.76 597.52 262.29 597.59C262.82 597.67 264.1 596.81 264.7 596.99C265.3 597.17 266.51 598.54 267.11 599.04C267.71 599.53 268.92 600.72 269.52 600.96C270.12 601.2 271.4 601.54 271.93 600.96C272.45 600.39 273.28 598.01 273.73 596.39C274.19 594.76 275.14 589.61 275.54 587.95C275.95 586.3 276.64 583.81 276.99 583.13C277.33 582.45 278.01 582.08 278.31 582.53C278.61 582.98 279.11 585.54 279.4 586.75C279.68 587.95 280.21 591.11 280.6 592.17C280.99 593.22 282.03 594.43 282.53 595.18C283.03 595.93 284.1 597.62 284.58 598.19C285.06 598.77 285.93 599.5 286.39 599.76C286.84 600.02 287.74 599.88 288.19 600.24C288.64 600.6 289.55 602.26 290 602.65C290.45 603.04 291.37 603.55 291.81 603.37C292.24 603.19 293.04 602.38 293.49 601.2C293.95 600.03 294.97 595.93 295.42 593.98C295.87 592.02 296.7 587.27 297.11 585.54C297.52 583.81 298.33 581.02 298.67 580.12C299.02 579.22 299.58 578.16 299.88 578.31C300.18 578.46 300.83 580.05 301.08 581.33C301.34 582.61 301.63 587.27 301.93 588.55C302.23 589.83 303.07 590.74 303.49 591.57C303.92 592.39 304.89 594.35 305.3 595.18C305.71 596.01 306.3 597.92 306.75 598.19C307.2 598.46 308.37 597.35 308.92 597.35C309.46 597.35 310.56 597.94 311.08 598.19C311.61 598.45 312.65 599.1 313.13 599.4C313.61 599.7 314.49 600.41 314.94 600.6C315.39 600.8 316.3 601.19 316.75 600.96C317.2 600.74 318.1 599.82 318.55 598.8C319.01 597.77 319.94 594.35 320.36 592.77C320.78 591.19 321.55 587.2 321.93 586.14C322.3 585.09 323.04 584.49 323.37 584.34C323.7 584.19 324.28 584.04 324.58 584.94C324.88 585.84 325.41 590.29 325.78 591.57C326.16 592.85 327.14 594.43 327.59 595.18C328.04 595.93 328.95 596.99 329.4 597.59C329.85 598.19 330.68 599.58 331.2 600C331.73 600.42 333.09 600.59 333.61 600.96C334.14 601.34 335.05 602.65 335.42 603.01C335.8 603.37 336.3 603.93 336.63 603.86C336.96 603.78 337.65 603.12 338.07 602.41C338.49 601.7 339.5 599.7 340 598.19C340.5 596.69 341.57 592.32 342.05 590.36C342.53 588.4 343.45 583.89 343.86 582.53C344.26 581.17 344.97 579.74 345.3 579.52C345.63 579.29 346.2 579.82 346.51 580.72C346.81 581.63 347.36 585.24 347.71 586.75C348.06 588.25 348.86 591.64 349.28 592.77C349.7 593.9 350.63 595.03 351.08 595.78C351.54 596.54 352.47 598.39 352.89 598.8C353.31 599.2 354.08 599.19 354.46 599.04C354.83 598.89 355.42 597.55 355.9 597.59C356.39 597.64 357.64 599.07 358.31 599.4C358.99 599.73 360.65 600.24 361.33 600.24C362 600.24 363.18 599.8 363.73 599.4C364.29 598.99 365.33 597.82 365.78 596.99C366.23 596.16 366.96 593.9 367.35 592.77C367.74 591.64 368.54 588.83 368.92 587.95C369.29 587.08 370.03 586.11 370.36 585.78C370.69 585.45 371.42 585.36 371.57 585.3" stroke="#ff0000"/>
<path d="M100.22 534.94C100.44 535.84 101.57 540.36 102.02 542.17C102.48 543.98 103.38 547.74 103.83 549.4C104.28 551.05 105.19 554.29 105.64 555.42C106.09 556.55 106.99 558.25 107.45 558.43C107.9 558.61 108.8 557.27 109.25 556.87C109.7 556.46 110.46 555.36 111.06 555.18C111.66 555 113.24 555.21 114.07 555.42C114.9 555.63 116.86 556.19 117.69 556.87C118.52 557.55 119.95 560.05 120.7 560.84C121.45 561.64 122.96 562.61 123.71 563.25C124.46 563.9 126.05 565.05 126.72 566.02C127.4 567 128.58 570.23 129.13 571.08C129.69 571.94 130.73 572.97 131.18 572.89C131.63 572.82 132.4 571.76 132.75 570.48C133.09 569.2 133.65 564.5 133.95 562.65C134.25 560.8 134.78 556.6 135.16 555.66C135.53 554.73 136.59 554.01 136.96 555.18C137.34 556.36 137.87 563.67 138.17 565.06C138.47 566.45 139 565.51 139.37 566.27C139.75 567.02 140.65 570.45 141.18 571.08C141.71 571.72 142.99 571.36 143.59 571.33C144.19 571.3 145.4 571.17 146 570.84C146.6 570.51 147.81 570 148.41 568.67C149.01 567.35 150.29 562.5 150.82 560.24C151.35 557.98 152.22 552.38 152.63 550.6C153.03 548.83 153.74 546.33 154.07 546.02C154.4 545.72 154.93 546.64 155.28 548.19C155.62 549.74 156.42 556.17 156.84 558.43C157.27 560.69 158.12 564.61 158.65 566.27C159.18 567.92 160.53 570.86 161.06 571.69C161.59 572.52 162.42 572.97 162.87 572.89C163.32 572.82 164.22 572.21 164.67 571.08C165.13 569.95 166.03 565.96 166.48 563.86C166.93 561.75 167.91 556.17 168.29 554.22C168.67 552.26 169.16 548.98 169.49 548.19C169.83 547.41 170.61 547.2 170.94 547.95C171.27 548.7 171.8 552.38 172.14 554.22C172.49 556.05 173.29 560.84 173.71 562.65C174.13 564.46 175.07 567.55 175.52 568.67C175.97 569.8 176.8 571.36 177.33 571.69C177.85 572.02 179.21 571.78 179.73 571.33C180.26 570.87 181.09 569.76 181.54 568.07C181.99 566.39 182.93 560.32 183.35 557.83C183.77 555.35 184.61 549.62 184.92 548.19C185.22 546.76 185.5 546.08 185.76 546.39C186.02 546.69 186.66 549.02 186.96 550.6C187.27 552.18 187.79 557.08 188.17 559.04C188.55 560.99 189.52 564.83 189.98 566.27C190.43 567.7 191.33 569.76 191.78 570.48C192.23 571.2 193.14 571.9 193.59 572.05C194.04 572.2 195.02 572.56 195.4 571.69C195.78 570.81 196.25 567.09 196.63 565.06C197.01 563.03 197.98 557.61 198.43 555.42C198.89 553.24 199.83 548.67 200.24 547.59C200.65 546.51 201.34 546.07 201.69 546.75C202.03 547.42 202.67 551.17 203.01 553.01C203.36 554.85 204.05 559.64 204.46 561.45C204.86 563.25 205.81 566.23 206.27 567.47C206.72 568.7 207.62 570.95 208.07 571.33C208.52 571.7 209.35 570.89 209.88 570.48C210.41 570.08 211.76 569.35 212.29 568.07C212.82 566.79 213.64 562.42 214.1 560.24C214.55 558.06 215.48 552.18 215.9 550.6C216.33 549.02 217.12 547.44 217.47 547.59C217.82 547.74 218.34 550.23 218.67 551.81C219.01 553.39 219.71 558.28 220.12 560.24C220.53 562.2 221.48 566.08 221.93 567.47C222.38 568.86 223.28 570.72 223.73 571.33C224.19 571.93 225.09 572.47 225.54 572.29C225.99 572.11 226.9 571.08 227.35 569.88C227.8 568.67 228.7 564.76 229.16 562.65C229.61 560.54 230.56 554.79 230.96 553.01C231.37 551.23 232.08 548.89 232.41 548.43C232.74 547.98 233.31 548.37 233.61 549.4C233.92 550.42 234.47 554.82 234.82 556.63C235.17 558.43 235.96 562.2 236.39 563.86C236.81 565.51 237.74 568.86 238.19 569.88C238.64 570.9 239.55 571.82 240 572.05C240.45 572.27 241.36 572.26 241.81 571.69C242.26 571.11 243.19 569.05 243.61 567.47C244.04 565.89 244.8 561.14 245.18 559.04C245.56 556.93 246.27 551.99 246.63 550.6C246.99 549.22 247.74 547.8 248.07 547.95C248.4 548.1 248.93 550.27 249.28 551.81C249.62 553.34 250.45 558.36 250.84 560.24C251.23 562.12 251.96 565.44 252.41 566.87C252.86 568.3 253.98 571.04 254.46 571.69C254.94 572.33 255.81 572.35 256.27 572.05C256.72 571.75 257.62 570.75 258.07 569.28C258.52 567.8 259.43 562.58 259.88 560.24C260.33 557.91 261.27 552.23 261.69 550.6C262.11 548.98 262.91 547.08 263.25 547.23C263.6 547.38 264.13 550.18 264.46 551.81C264.79 553.43 265.5 558.28 265.9 560.24C266.31 562.2 267.26 566.04 267.71 567.47C268.16 568.9 269.07 571.11 269.52 571.69C269.97 572.26 270.87 572.42 271.33 572.05C271.78 571.67 272.68 570.15 273.13 568.67C273.58 567.2 274.49 562.5 274.94 560.24C275.39 557.98 276.33 552.18 276.75 550.6C277.17 549.02 277.98 547.44 278.31 547.59C278.64 547.74 279.07 550.08 279.4 551.81C279.73 553.54 280.54 559.41 280.96 561.45C281.39 563.48 282.32 566.75 282.77 568.07C283.22 569.4 284.13 571.55 284.58 572.05C285.03 572.55 285.93 572.47 286.39 572.05C286.84 571.63 287.74 570.3 288.19 568.67C288.64 567.05 289.7 560.54 290 559.04C290.3 557.53 290.35 557.83 290.6 556.63C290.86 555.42 291.72 550.53 292.05 549.4C292.38 548.27 292.95 547.29 293.25 547.59C293.55 547.89 294.16 550.23 294.46 551.81C294.76 553.39 295.29 558.36 295.66 560.24C296.04 562.12 297.02 565.48 297.47 566.87C297.92 568.25 298.83 570.65 299.28 571.33C299.73 572 300.63 572.35 301.08 572.29C301.54 572.23 302.44 571.9 302.89 570.84C303.34 569.79 304.28 565.93 304.7 563.86C305.12 561.78 305.89 556.14 306.27 554.22C306.64 552.29 307.38 549.04 307.71 548.43C308.04 547.83 308.61 548.22 308.92 549.4C309.22 550.57 309.79 556.02 310.12 557.83C310.45 559.64 311.14 562.35 311.57 563.86C311.99 565.36 313 568.83 313.49 569.88C313.99 570.93 315.06 572.06 315.54 572.29C316.02 572.52 316.9 572.29 317.35 571.69C317.8 571.08 318.73 569.05 319.16 567.47C319.58 565.89 320.35 561.14 320.72 559.04C321.1 556.93 321.84 551.96 322.17 550.6C322.5 549.25 323.07 548.19 323.37 548.19C323.67 548.19 324.28 549.25 324.58 550.6C324.88 551.96 325.41 557.15 325.78 559.04C326.16 560.92 327.14 564.16 327.59 565.66C328.04 567.17 328.95 570.26 329.4 571.08C329.85 571.91 330.75 572.26 331.2 572.29C331.66 572.32 332.56 572.23 333.01 571.33C333.46 570.42 334.4 566.9 334.82 565.06C335.24 563.22 336.01 558.58 336.39 556.63C336.76 554.67 337.5 550.45 337.83 549.4C338.16 548.34 338.73 547.74 339.04 548.19C339.34 548.64 339.91 551.36 340.24 553.01C340.57 554.67 341.27 559.64 341.69 561.45C342.11 563.25 343.16 566.19 343.61 567.47C344.07 568.75 344.85 571.08 345.3 571.69C345.75 572.29 346.78 572.52 347.23 572.29C347.68 572.06 348.46 571.23 348.92 569.88C349.37 568.52 350.42 563.55 350.84 561.45C351.27 559.34 351.93 554.67 352.29 553.01C352.65 551.36 353.4 548.64 353.73 548.19C354.07 547.74 354.64 548.34 354.94 549.4C355.24 550.45 355.8 554.82 356.14 556.63C356.49 558.43 357.29 562.12 357.71 563.86C358.13 565.59 359.07 569.43 359.52 570.48C359.97 571.54 360.84 572.21 361.33 572.29C361.81 572.36 362.88 571.99 363.37 571.08C363.87 570.18 364.85 567.02 365.3 565.06C365.75 563.1 366.58 557.53 366.99 555.42C367.39 553.31 368.25 549.17 368.55 548.19C368.86 547.21 369.17 547.14 369.4 547.59C369.62 548.04 370.09 551.05 370.36 551.81C370.63 552.56 371.42 553.39 371.57 553.61" stroke="#0000ff"/>
<path d="M100.22 509.64C100.44 510.39 101.57 514.08 102.02 515.66C102.48 517.24 103.38 520.48 103.83 522.29C104.28 524.1 105.26 528.81 105.64 530.12C106.02 531.43 106.54 532.39 106.84 532.77C107.14 533.15 107.6 533.27 108.05 533.13C108.5 533 109.86 531.69 110.46 531.69C111.06 531.69 112.27 532.8 112.87 533.13C113.47 533.46 114.67 534.26 115.28 534.34C115.88 534.41 117.08 533.28 117.69 533.73C118.29 534.19 119.57 537.47 120.1 537.95C120.62 538.43 121.38 537.85 121.9 537.59C122.43 537.33 123.71 535.71 124.31 535.9C124.92 536.1 126.05 538.52 126.72 539.16C127.4 539.79 129.06 540.62 129.73 540.96C130.41 541.31 131.54 541.81 132.14 541.93C132.75 542.05 133.95 541.52 134.55 541.93C135.16 542.33 136.39 544.88 136.96 545.18C137.54 545.48 138.45 544.14 139.13 544.34C139.81 544.53 141.68 546.49 142.39 546.75C143.09 547 144.34 546.78 144.8 546.39C145.25 545.99 145.47 544.02 146 543.61C146.53 543.21 148.33 543.13 149.01 543.13C149.69 543.13 150.67 543.73 151.42 543.61C152.17 543.49 154.36 541.93 155.04 542.17C155.71 542.41 156.24 545.36 156.84 545.54C157.45 545.72 158.95 543.96 159.86 543.61C160.76 543.27 163.02 542.53 164.07 542.77C165.13 543.01 167.31 545.5 168.29 545.54C169.27 545.59 171.08 543.52 171.9 543.13C172.73 542.74 174.34 542.68 174.92 542.41C175.49 542.14 176.03 540.84 176.48 540.96C176.93 541.08 178.05 543.3 178.53 543.37C179.01 543.45 179.89 541.69 180.34 541.57C180.79 541.45 181.47 542.64 182.14 542.41C182.82 542.18 185.01 539.82 185.76 539.76C186.51 539.7 187.49 541.78 188.17 541.93C188.85 542.08 190.5 540.78 191.18 540.96C191.86 541.14 192.99 543.22 193.59 543.37C194.19 543.52 195.32 542.02 196 542.17C196.68 542.32 198.36 544.58 199.04 544.58C199.72 544.58 200.92 542.09 201.45 542.17C201.97 542.24 202.8 544.76 203.25 545.18C203.7 545.6 204.46 545.62 205.06 545.54C205.66 545.47 207.32 544.67 208.07 544.58C208.83 544.49 210.33 544.89 211.08 544.82C211.84 544.74 213.34 543.93 214.1 543.98C214.85 544.02 216.43 545.14 217.11 545.18C217.79 545.23 218.99 544.71 219.52 544.34C220.05 543.96 220.87 542.14 221.33 542.17C221.78 542.2 222.61 544.65 223.13 544.58C223.66 544.5 225.02 541.75 225.54 541.57C226.07 541.39 226.9 543.03 227.35 543.13C227.8 543.24 228.63 542.61 229.16 542.41C229.68 542.21 230.96 541.93 231.57 541.57C232.17 541.2 233.22 539.74 233.98 539.52C234.73 539.29 236.84 539.88 237.59 539.76C238.34 539.64 239.4 538.25 240 538.55C240.6 538.86 241.88 541.79 242.41 542.17C242.94 542.55 243.69 541.39 244.22 541.57C244.74 541.75 246.1 543.54 246.63 543.61C247.15 543.69 247.91 542.35 248.43 542.17C248.96 541.99 250.32 541.9 250.84 542.17C251.37 542.44 252.12 544.01 252.65 544.34C253.18 544.67 254.38 545.06 255.06 544.82C255.74 544.58 257.47 542.36 258.07 542.41C258.67 542.45 259.35 544.31 259.88 545.18C260.41 546.05 261.76 548.57 262.29 549.4C262.82 550.23 263.67 551.36 264.1 551.81C264.52 552.26 265.14 553.28 265.66 553.01C266.19 552.74 267.76 550.12 268.31 549.64C268.87 549.16 269.67 549.26 270.12 549.16C270.57 549.05 271.48 549.29 271.93 548.8C272.38 548.3 273.21 546.31 273.73 545.18C274.26 544.05 275.62 540.81 276.14 539.76C276.67 538.7 277.5 538.48 277.95 536.75C278.4 535.02 279.38 527.56 279.76 525.9C280.14 524.25 280.66 523.57 280.96 523.49C281.27 523.42 281.87 524.02 282.17 525.3C282.47 526.58 283 531.63 283.37 533.73C283.75 535.84 284.8 540.63 285.18 542.17C285.56 543.7 286.01 545.6 286.39 546.02C286.76 546.45 287.74 546.1 288.19 545.54C288.64 544.98 289.52 543.04 290 541.57C290.48 540.09 291.61 535.62 292.05 533.73C292.48 531.85 293.19 527.64 293.49 526.51C293.8 525.38 294.22 524.4 294.46 524.7C294.7 525 295.12 527.48 295.42 528.92C295.72 530.35 296.51 534.49 296.87 536.14C297.23 537.8 297.94 540.66 298.31 542.17C298.69 543.67 299.49 547.89 299.88 548.19C300.27 548.49 301.07 545.33 301.45 544.58C301.82 543.83 302.48 543.83 302.89 542.17C303.3 540.51 304.25 533.96 304.7 531.33C305.15 528.69 306.05 522.41 306.51 521.08C306.96 519.76 307.94 519.74 308.31 520.72C308.69 521.7 309.17 526.84 309.52 528.92C309.86 530.99 310.71 535.54 311.08 537.35C311.46 539.16 312.17 542.24 312.53 543.37C312.89 544.5 313.6 546.16 313.98 546.39C314.35 546.61 315.2 545.29 315.54 545.18C315.89 545.08 316.4 545.99 316.75 545.54C317.09 545.09 317.91 543.04 318.31 541.57C318.72 540.09 319.55 535.92 320 533.73C320.45 531.55 321.54 525.72 321.93 524.1C322.32 522.47 322.83 520.87 323.13 520.72C323.43 520.57 324.04 521.72 324.34 522.89C324.64 524.07 325.21 528.54 325.54 530.12C325.87 531.7 326.63 534.26 326.99 535.54C327.35 536.82 328.06 539.38 328.43 540.36C328.81 541.34 329.61 543.15 330 543.37C330.39 543.6 331.19 543.37 331.57 542.17C331.94 540.96 332.65 535.99 333.01 533.73C333.37 531.48 334.16 525.6 334.46 524.1C334.76 522.59 335.15 521.46 335.42 521.69C335.69 521.91 336.33 524.4 336.63 525.9C336.93 527.41 337.5 531.85 337.83 533.73C338.16 535.62 338.9 539.43 339.28 540.96C339.65 542.5 340.42 545.45 340.84 546.02C341.27 546.6 342.15 545.72 342.65 545.54C343.15 545.36 344.37 545.45 344.82 544.58C345.27 543.7 345.86 540.66 346.27 538.55C346.67 536.45 347.65 530.12 348.07 527.71C348.49 525.3 349.29 520.48 349.64 519.28C349.98 518.07 350.54 517.7 350.84 518.07C351.14 518.45 351.75 520.63 352.05 522.29C352.35 523.95 352.92 529.14 353.25 531.33C353.58 533.51 354.34 537.98 354.7 539.76C355.06 541.54 355.72 544.82 356.14 545.54C356.57 546.27 357.65 545.48 358.07 545.54C358.49 545.6 359.16 546.3 359.52 546.02C359.88 545.75 360.59 544.76 360.96 543.37C361.34 541.99 362.11 537.2 362.53 534.94C362.95 532.68 363.93 527.41 364.34 525.3C364.74 523.19 365.48 519.16 365.78 518.07C366.08 516.99 366.45 516.4 366.75 516.63C367.05 516.85 367.86 518.34 368.19 519.88C368.52 521.42 369.1 526.91 369.4 528.92C369.7 530.92 370.26 535.08 370.6 535.9C370.95 536.73 371.97 535.59 372.17 535.54" stroke="#000"/>
</g>
<path class="tM" d="M100.2 610.5L100.2 616.7 M100.2 440.7L100.2 434.5 M154.56 610.5L154.56 616.7 M154.56 440.7L154.56 434.5 M208.92 610.5L208.92 616.7 M208.92 440.7L208.92 434.5 M263.28 610.5L263.28 616.7 M263.28 440.7L263.28 434.5 M317.64 610.5L317.64 616.7 M317.64 440.7L317.64 434.5 M372 610.5L372 616.7 M372 440.7L372 434.5 M100.2 610.5L94 610.5 M372 610.5L378.2 610.5 M100.2 585.34L94 585.34 M372 585.34L378.2 585.34 M100.2 560.19L94 560.19 M372 560.19L378.2 560.19 M100.2 535.03L94 535.03 M372 535.03L378.2 535.03 M100.2 509.88L94 509.88 M372 509.88L378.2 509.88 M100.2 484.72L94 484.72 M372 484.72L378.2 484.72 M100.2 459.57L94 459.57 M372 459.57L378.2 459.57"/>
<path class="tm" d="M113.79 610.5L113.79 613.7 M113.79 440.7L113.79 437.5 M127.38 610.5L127.38 613.7 M127.38 440.7L127.38 437.5 M140.97 610.5L140.97 613.7 M140.97 440.7L140.97 437.5 M168.15 610.5L168.15 613.7 M168.15 440.7L168.15 437.5 M181.74 610.5L181.74 613.7 M181.74 440.7L181.74 437.5 M195.33 610.5L195.33 613.7 M195.33 440.7L195.33 437.5 M222.51 610.5L222.51 613.7 M222.51 440.7L222.51 437.5 M236.1 610.5L236.1 613.7 M236.1 440.7L236.1 437.5 M249.69 610.5L249.69 613.7 M249.69 440.7L249.69 437.5 M276.87 610.5L276.87 613.7 M276.87 440.7L276.87 437.5 M290.46 610.5L290.46 613.7 M290.46 440.7L290.46 437.5 M304.05 610.5L304.05 613.7 M304.05 440.7L304.05 437.5 M331.23 610.5L331.23 613.7 M331.23 440.7L331.23 437.5 M344.82 610.5L344.82 613.7 M344.82 440.7L344.82 437.5 M358.41 610.5L358.41 613.7 M358.41 440.7L358.41 437.5 M100.2 604.21L97 604.21 M372 604.21L375.2 604.21 M100.2 597.92L97 597.92 M372 597.92L375.2 597.92 M100.2 591.63L97 591.63 M372 591.63L375.2 591.63 M100.2 579.06L97 579.06 M372 579.06L375.2 579.06 M100.2 572.77L97 572.77 M372 572.77L375.2 572.77 M100.2 566.48L97 566.48 M372 566.48L375.2 566.48 M100.2 553.9L97 553.9 M372 553.9L375.2 553.9 M100.2 547.61L97 547.61 M372 547.61L375.2 547.61 M100.2 541.32L97 541.32 M372 541.32L375.2 541.32 M100.2 528.74L97 528.74 M372 528.74L375.2 528.74 M100.2 522.46L97 522.46 M372 522.46L375.2 522.46 M100.2 516.17L97 516.17 M372 516.17L375.2 516.17 M100.2 503.59L97 503.59 M372 503.59L375.2 503.59 M100.2 497.3L97 497.3 M372 497.3L375.2 497.3 M100.2 491.01L97 491.01 M372 491.01L375.2 491.01 M100.2 478.43L97 478.43 M372 478.43L375.2 478.43 M100.2 472.14L97 472.14 M372 472.14L375.2 472.14 M100.2 465.86L97 465.86 M372 465.86L375.2 465.86 M100.2 453.28L97 453.28 M372 453.28L375.2 453.28 M100.2 446.99L97 446.99 M372 446.99L375.2 446.99 M100.2 440.7L97 440.7 M372 440.7L375.2 440.7"/>
<rect class="frame" x="100.2" y="440.7" width="271.8" height="169.8"/>
<text class="tl" x="100.2" y="631.2" text-anchor="middle" textLength="6.6" lengthAdjust="spacingAndGlyphs">0</text>
<text class="tl" x="154.56" y="631.2" text-anchor="middle" textLength="13.2" lengthAdjust="spacingAndGlyphs">20</text>
<text class="tl" x="208.92" y="631.2" text-anchor="middle" textLength="13.2" lengthAdjust="spacingAndGlyphs">40</text>
<text class="tl" x="263.28" y="631.2" text-anchor="middle" textLength="13.2" lengthAdjust="spacingAndGlyphs">60</text>
<text class="tl" x="317.64" y="631.2" text-anchor="middle" textLength="13.2" lengthAdjust="spacingAndGlyphs">80</text>
<text class="tl" x="372" y="631.2" text-anchor="middle" textLength="19.6" lengthAdjust="spacingAndGlyphs">100</text>
<text class="tl" x="87.8" y="614.5" text-anchor="end" textLength="26.2" lengthAdjust="spacingAndGlyphs">1280</text>
<text class="tl" x="87.8" y="589.34" text-anchor="end" textLength="26.2" lengthAdjust="spacingAndGlyphs">1320</text>
<text class="tl" x="87.8" y="564.19" text-anchor="end" textLength="26.2" lengthAdjust="spacingAndGlyphs">1360</text>
<text class="tl" x="87.8" y="539.03" text-anchor="end" textLength="26.2" lengthAdjust="spacingAndGlyphs">1400</text>
<text class="tl" x="87.8" y="513.88" text-anchor="end" textLength="26.2" lengthAdjust="spacingAndGlyphs">1440</text>
<text class="tl" x="87.8" y="488.72" text-anchor="end" textLength="26.2" lengthAdjust="spacingAndGlyphs">1480</text>
<text class="tl" x="87.8" y="463.57" text-anchor="end" textLength="26.2" lengthAdjust="spacingAndGlyphs">1520</text>
<text class="xt" y="648.4"><tspan x="205.7" textLength="33.9" lengthAdjust="spacingAndGlyphs">Time</tspan><tspan class="br" x="246.4">[</tspan><tspan class="tau" x="253.1" textLength="7.6" lengthAdjust="spacingAndGlyphs">&#964;</tspan><tspan class="br" x="261.7">]</tspan></text>
<text class="yt" transform="translate(56.2 525.6) rotate(-90)"><tspan x="-44.1" textLength="68.5" lengthAdjust="spacingAndGlyphs">Temperature</tspan><tspan x="28.9" textLength="15.6" lengthAdjust="spacingAndGlyphs">[K]</tspan></text>
<text class="pt" x="372.9" y="434.6" text-anchor="end" textLength="28.1" lengthAdjust="spacingAndGlyphs">IGCM</text>
<line class="ll" x1="124" y1="456.9" x2="142.2" y2="456.9" stroke="#000"/>
<text class="lt" x="143" y="460.1" textLength="15.4" lengthAdjust="spacingAndGlyphs">T85</text>
<line class="ll" x1="124" y1="469.4" x2="142.2" y2="469.4" stroke="#0000ff"/>
<text class="lt" x="143" y="472.6" textLength="16.0" lengthAdjust="spacingAndGlyphs">T42</text>
<line class="ll" x1="124" y1="481.8" x2="142.2" y2="481.8" stroke="#ff0000"/>
<text class="lt" x="143" y="485" textLength="14.9" lengthAdjust="spacingAndGlyphs">T21</text>
</g>
<g class="panel" id="p3">
<g class="data" clip-path="url(#clip3)">
<path d="M500.22 560.66C500.44 561.49 501.57 565.71 502.02 567.29C502.48 568.87 503.38 572.03 503.83 573.31C504.28 574.59 505.19 576.81 505.64 577.53C506.09 578.25 507.02 579.1 507.45 579.1C507.87 579.1 508.56 578.1 509.01 577.53C509.46 576.96 510.43 575.08 511.06 574.52C511.69 573.96 513.24 573.4 514.07 573.07C514.9 572.74 516.86 571.91 517.69 571.87C518.52 571.82 519.87 572.38 520.7 572.71C521.53 573.04 523.56 573.92 524.31 574.52C525.07 575.12 526.12 576.93 526.72 577.53C527.33 578.13 528.61 579.04 529.13 579.34C529.66 579.64 530.49 579.26 530.94 579.94C531.39 580.62 532.3 583.86 532.75 584.76C533.2 585.66 534.18 586.82 534.55 587.17C534.93 587.52 535.38 587.83 535.76 587.53C536.14 587.23 537.11 585.71 537.57 584.76C538.02 583.81 538.92 580.84 539.37 579.94C539.83 579.04 540.8 577.83 541.18 577.53C541.56 577.23 542.08 577.98 542.39 577.53C542.69 577.08 543.29 574.22 543.59 573.92C543.89 573.61 544.42 574.52 544.8 575.12C545.17 575.72 546.08 577.76 546.6 578.73C547.13 579.71 548.41 582.05 549.01 582.95C549.61 583.86 550.74 585.63 551.42 585.96C552.1 586.3 553.76 585.6 554.43 585.6C555.11 585.6 556.35 586.22 556.84 585.96C557.34 585.71 558.03 584.83 558.41 583.55C558.79 582.27 559.4 577.3 559.86 575.72C560.31 574.14 561.54 571.69 562.02 570.9C562.51 570.12 563.3 569.23 563.71 569.46C564.12 569.68 564.78 572.15 565.28 572.71C565.77 573.27 567.13 573.69 567.69 573.92C568.24 574.14 569.21 574.74 569.73 574.52C570.26 574.29 571.41 572.94 571.9 572.11C572.4 571.28 573.26 568.72 573.71 567.89C574.16 567.06 574.99 565.83 575.52 565.48C576.05 565.14 577.33 564.89 577.93 565.12C578.53 565.35 579.73 566.72 580.34 567.29C580.94 567.86 582.14 569.37 582.75 569.7C583.35 570.03 584.55 570.17 585.16 569.94C585.76 569.71 586.89 567.92 587.57 567.89C588.24 567.86 589.83 569.5 590.58 569.7C591.33 569.89 592.91 569.58 593.59 569.46C594.27 569.34 595.62 568.83 596 568.73C596.38 568.64 596.25 568.49 596.63 568.73C597.01 568.98 598.43 570.17 599.04 570.66C599.64 571.16 600.69 572.65 601.45 572.71C602.2 572.77 604.23 571.45 605.06 571.14C605.89 570.84 607.39 570.26 608.07 570.3C608.75 570.35 609.88 571.36 610.48 571.51C611.08 571.66 612.29 571.61 612.89 571.51C613.49 571.4 614.62 570.59 615.3 570.66C615.98 570.74 617.56 571.66 618.31 572.11C619.07 572.56 620.65 574.13 621.33 574.28C622 574.43 623.06 573.7 623.73 573.31C624.41 572.92 625.77 571.57 626.75 571.14C627.73 570.72 630.51 569.82 631.57 569.94C632.62 570.06 634.35 571.54 635.18 572.11C636.01 572.68 637.52 574.44 638.19 574.52C638.87 574.59 639.92 573.19 640.6 572.71C641.28 572.23 642.94 570.92 643.61 570.66C644.29 570.41 645.35 570.45 646.02 570.66C646.7 570.87 648.24 571.9 649.04 572.35C649.83 572.8 651.58 574.31 652.41 574.28C653.24 574.25 654.88 572.56 655.66 572.11C656.45 571.66 657.85 570.93 658.67 570.66C659.5 570.39 661.39 569.83 662.29 569.94C663.19 570.05 665.08 571.27 665.9 571.51C666.73 571.75 668.16 572.02 668.92 571.87C669.67 571.72 671.25 570.57 671.93 570.3C672.61 570.03 673.66 569.59 674.34 569.7C675.02 569.8 676.67 570.84 677.35 571.14C678.03 571.45 679.08 572.17 679.76 572.11C680.44 572.05 681.94 570.99 682.77 570.66C683.6 570.33 685.48 569.5 686.39 569.46C687.29 569.41 689.14 569.97 690 570.3C690.86 570.63 692.47 572.06 693.25 572.11C694.04 572.15 695.51 570.81 696.27 570.66C697.02 570.51 698.37 571.1 699.28 570.9C700.18 570.71 702.67 569.02 703.49 569.1C704.32 569.17 705.3 571.01 705.9 571.51C706.51 572 707.64 573.07 708.31 573.07C708.99 573.07 710.57 572.05 711.33 571.51C712.08 570.96 713.51 569.19 714.34 568.73C715.17 568.28 717.2 567.7 717.95 567.89C718.7 568.09 719.68 569.7 720.36 570.3C721.04 570.9 722.62 572.56 723.37 572.71C724.13 572.86 725.71 571.81 726.39 571.51C727.06 571.2 728.19 570.35 728.8 570.3C729.4 570.26 730.53 571.1 731.2 571.14C731.88 571.19 733.46 570.66 734.22 570.66C734.97 570.66 736.48 570.81 737.23 571.14C737.98 571.48 739.56 572.97 740.24 573.31C740.92 573.66 741.97 574.19 742.65 573.92C743.33 573.64 744.98 571.6 745.66 571.14C746.34 570.69 747.47 570.41 748.07 570.3C748.67 570.2 749.88 570.08 750.48 570.3C751.08 570.53 752.29 571.73 752.89 572.11C753.49 572.48 754.62 573.34 755.3 573.31C755.98 573.28 757.41 572.39 758.31 571.87C759.22 571.34 761.63 569.29 762.53 569.1C763.43 568.9 764.79 570.11 765.54 570.3C766.3 570.5 767.8 570.71 768.55 570.66C769.31 570.62 771.19 570.03 771.57 569.94" stroke="#ff0000"/>
<path d="M500.22 535.36C500.44 536.19 501.57 540.56 502.02 541.99C502.48 543.42 503.38 545.6 503.83 546.81C504.28 548.01 505.23 550.72 505.64 551.63C506.05 552.53 506.71 553.89 507.08 554.04C507.46 554.19 508.3 553.25 508.65 552.83C509 552.41 509.4 550.99 509.86 550.66C510.31 550.33 511.66 550.44 512.27 550.18C512.87 549.92 514 548.96 514.67 548.61C515.35 548.27 516.93 547.41 517.69 547.41C518.44 547.41 519.95 548.36 520.7 548.61C521.45 548.87 523.03 549.08 523.71 549.46C524.39 549.83 525.59 550.9 526.12 551.63C526.65 552.35 527.48 554.34 527.93 555.24C528.38 556.14 529.28 558.1 529.73 558.86C530.19 559.61 531.12 561.04 531.54 561.27C531.96 561.49 532.73 561.19 533.11 560.66C533.48 560.14 534.15 558.1 534.55 557.05C534.96 555.99 535.98 553.06 536.36 552.23C536.74 551.4 537.27 551.13 537.57 550.42C537.87 549.71 538.52 547.17 538.77 546.57C539.03 545.96 539.36 545.35 539.61 545.6C539.87 545.86 540.47 547.79 540.82 548.61C541.17 549.44 541.99 551.25 542.39 552.23C542.78 553.21 543.61 555.8 543.95 556.45C544.3 557.09 544.8 557.41 545.16 557.41C545.52 557.41 546.39 556.75 546.84 556.45C547.3 556.14 548.35 555.98 548.77 555C549.19 554.02 549.81 549.71 550.22 548.61C550.62 547.52 551.5 546.81 552.02 546.2C552.55 545.6 553.98 543.8 554.43 543.8C554.89 543.8 555.34 545.68 555.64 546.2C555.94 546.73 556.5 547.94 556.84 548.01C557.19 548.09 558.06 547.03 558.41 546.81C558.76 546.58 559.28 545.93 559.61 546.2C559.95 546.48 560.65 548.75 561.06 548.98C561.47 549.2 562.45 548.28 562.87 548.01C563.29 547.74 564.06 546.81 564.43 546.81C564.81 546.81 565.43 547.48 565.88 548.01C566.33 548.54 567.52 550.84 568.05 551.02C568.58 551.2 569.61 549.98 570.1 549.46C570.58 548.93 571.45 547.02 571.9 546.81C572.36 546.6 573.26 547.62 573.71 547.77C574.16 547.92 575.11 548.66 575.52 548.01C575.92 547.36 576.59 543.57 576.96 542.59C577.34 541.61 578.11 540.59 578.53 540.18C578.95 539.77 579.81 539.38 580.34 539.34C580.86 539.29 582.14 539.82 582.75 539.82C583.35 539.82 584.55 539.22 585.16 539.34C585.76 539.46 586.96 540.38 587.57 540.78C588.17 541.19 589.37 542.26 589.98 542.59C590.58 542.92 591.63 543.24 592.39 543.43C593.14 543.63 595.09 544.31 596 544.16C596.91 544.01 598.81 542.58 599.64 542.23C600.47 541.88 601.97 541.23 602.65 541.39C603.33 541.54 604.46 542.91 605.06 543.43C605.66 543.96 606.79 545.26 607.47 545.6C608.15 545.95 609.73 546.51 610.48 546.2C611.23 545.9 612.82 543.72 613.49 543.19C614.17 542.67 615.3 541.76 615.9 541.99C616.51 542.21 617.64 544.43 618.31 545C618.99 545.57 620.57 546.49 621.33 546.57C622.08 546.64 623.66 546.1 624.34 545.6C625.02 545.11 625.99 543.19 626.75 542.59C627.5 541.99 629.61 540.56 630.36 540.78C631.11 541.01 632.17 543.61 632.77 544.4C633.37 545.18 634.58 546.67 635.18 547.05C635.78 547.42 636.99 547.59 637.59 547.41C638.19 547.23 639.32 546.16 640 545.6C640.68 545.05 642.26 543.37 643.01 542.95C643.77 542.53 645.27 542.12 646.02 542.23C646.78 542.33 648.28 543.4 649.04 543.8C649.79 544.19 651.3 545.26 652.05 545.36C652.8 545.47 654.38 544.79 655.06 544.64C655.74 544.49 656.79 544.41 657.47 544.16C658.15 543.9 659.88 542.74 660.48 542.59C661.08 542.44 661.69 543.06 662.29 542.95C662.89 542.85 664.55 541.64 665.3 541.75C666.05 541.85 667.64 543.34 668.31 543.8C668.99 544.25 670.05 545.36 670.72 545.36C671.4 545.36 672.98 544.04 673.73 543.8C674.49 543.55 676.07 543.51 676.75 543.43C677.42 543.36 678.48 543.04 679.16 543.19C679.83 543.34 681.42 544.26 682.17 544.64C682.92 545.02 684.5 546.2 685.18 546.2C685.86 546.2 686.99 544.86 687.59 544.64C688.19 544.41 689.37 544.55 690 544.4C690.63 544.25 692.06 543.73 692.65 543.43C693.24 543.13 694.17 541.87 694.7 541.99C695.23 542.11 696.22 543.98 696.87 544.4C697.52 544.82 699.13 545.36 699.88 545.36C700.63 545.36 702.14 544.59 702.89 544.4C703.64 544.2 705.23 544.25 705.9 543.8C706.58 543.34 707.67 541.23 708.31 540.78C708.96 540.33 710.41 539.85 711.08 540.18C711.76 540.51 713.03 542.73 713.73 543.43C714.44 544.14 716.07 545.9 716.75 545.84C717.42 545.78 718.55 543.46 719.16 542.95C719.76 542.44 720.96 541.72 721.57 541.75C722.17 541.78 723.37 542.79 723.98 543.19C724.58 543.6 725.86 544.77 726.39 545C726.91 545.23 727.7 545.26 728.19 545C728.69 544.74 729.76 543.1 730.36 542.95C730.96 542.8 732.3 543.77 733.01 543.8C733.72 543.83 735.27 543.42 736.02 543.19C736.78 542.97 738.36 542.06 739.04 541.99C739.71 541.91 740.77 542.21 741.45 542.59C742.12 542.97 743.78 544.55 744.46 545C745.14 545.45 746.27 546.28 746.87 546.2C747.47 546.13 748.6 544.65 749.28 544.4C749.95 544.14 751.54 544.23 752.29 544.16C753.04 544.08 754.62 543.99 755.3 543.8C755.98 543.6 757.03 542.82 757.71 542.59C758.39 542.36 760.05 541.76 760.72 541.99C761.4 542.21 762.53 543.67 763.13 544.4C763.73 545.12 764.86 547.55 765.54 547.77C766.22 548 767.8 546.6 768.55 546.2C769.31 545.81 771.19 544.83 771.57 544.64" stroke="#0000ff"/>
<path d="M500.22 509.46C500.44 509.91 501.57 511.87 502.02 513.07C502.48 514.28 503.38 517.59 503.83 519.1C504.28 520.6 505.23 524.07 505.64 525.12C506.05 526.17 506.71 527.3 507.08 527.53C507.46 527.76 508.23 527.3 508.65 526.93C509.07 526.55 509.93 524.77 510.46 524.52C510.98 524.26 512.27 525.03 512.87 524.88C513.47 524.73 514.7 523.61 515.28 523.31C515.85 523.01 516.92 522.39 517.45 522.47C517.97 522.55 518.94 523.66 519.49 523.92C520.05 524.17 521.23 524.14 521.9 524.52C522.58 524.89 524.24 526.4 524.92 526.93C525.59 527.45 526.75 528.66 527.33 528.73C527.9 528.81 528.97 527.45 529.49 527.53C530.02 527.61 530.98 528.77 531.54 529.34C532.1 529.91 533.5 531.81 533.95 532.11C534.4 532.41 534.81 532.35 535.16 531.75C535.5 531.14 536.38 527.29 536.72 527.29C537.07 527.29 537.6 530.89 537.93 531.75C538.26 532.61 539.01 534.23 539.37 534.16C539.73 534.08 540.44 532.27 540.82 531.14C541.2 530.02 541.96 526.48 542.39 525.12C542.81 523.77 543.79 520.98 544.19 520.3C544.6 519.62 545.26 519.47 545.64 519.7C546.02 519.92 546.78 521.2 547.2 522.11C547.63 523.01 548.61 526.02 549.01 526.93C549.42 527.83 550.08 528.58 550.46 529.34C550.83 530.09 551.63 532.8 552.02 532.95C552.42 533.1 553.14 531.52 553.59 530.54C554.04 529.56 555.13 526.28 555.64 525.12C556.15 523.96 557.16 521.87 557.69 521.27C558.21 520.66 559.36 520.57 559.86 520.3C560.35 520.03 561.14 519.1 561.66 519.1C562.19 519.1 563.24 520.15 564.07 520.3C564.9 520.45 567.46 519.92 568.29 520.3C569.12 520.68 570.1 522.71 570.7 523.31C571.3 523.92 572.43 524.71 573.11 525.12C573.79 525.53 575.52 526.27 576.12 526.57C576.72 526.87 577.55 527.59 577.93 527.53C578.3 527.47 578.83 525.9 579.13 526.08C579.43 526.27 579.96 529.02 580.34 528.98C580.71 528.93 581.77 526.28 582.14 525.72C582.52 525.17 582.97 524.47 583.35 524.52C583.73 524.56 584.7 525.93 585.16 526.08C585.61 526.23 586.59 525.66 586.96 525.72C587.34 525.78 587.79 526.79 588.17 526.57C588.55 526.34 589.52 524.25 589.98 523.92C590.43 523.58 591.33 524.29 591.78 523.92C592.23 523.54 593.06 521.43 593.59 520.9C594.12 520.38 595.39 519.8 596 519.7C596.61 519.59 597.9 520.11 598.43 520.06C598.96 520.02 599.79 519.23 600.24 519.34C600.69 519.44 601.52 520.86 602.05 520.9C602.58 520.95 603.86 520 604.46 519.7C605.06 519.4 606.27 518.9 606.87 518.49C607.47 518.09 608.67 516.9 609.28 516.45C609.88 515.99 611.08 514.85 611.69 514.88C612.29 514.91 613.49 516.88 614.1 516.69C614.7 516.49 615.83 513.77 616.51 513.31C617.18 512.86 618.84 513.1 619.52 513.07C620.2 513.04 621.33 512.77 621.93 513.07C622.53 513.37 623.73 514.85 624.34 515.48C624.94 516.11 626.14 517.71 626.75 518.13C627.35 518.55 628.55 518.77 629.16 518.86C629.76 518.95 630.96 519.13 631.57 518.86C632.17 518.58 633.37 517.26 633.98 516.69C634.58 516.11 635.78 514.61 636.39 514.28C636.99 513.95 638.27 513.81 638.8 514.04C639.32 514.26 640.11 515.42 640.6 516.08C641.1 516.75 642.24 519.19 642.77 519.34C643.3 519.49 644.26 517.5 644.82 517.29C645.38 517.08 646.63 517.65 647.23 517.65C647.83 517.65 649.04 517.64 649.64 517.29C650.24 516.94 651.45 515.29 652.05 514.88C652.65 514.47 653.86 514.04 654.46 514.04C655.06 514.04 656.19 514.55 656.87 514.88C657.55 515.21 659.2 516.39 659.88 516.69C660.56 516.99 661.69 517.06 662.29 517.29C662.89 517.52 664.17 518.49 664.7 518.49C665.23 518.49 665.9 517.29 666.51 517.29C667.11 517.29 668.77 518.09 669.52 518.49C670.27 518.9 671.85 520.32 672.53 520.54C673.21 520.77 674.26 520.56 674.94 520.3C675.62 520.05 677.24 519.17 677.95 518.49C678.66 517.82 680 515.33 680.6 514.88C681.2 514.43 682.2 514.43 682.77 514.88C683.34 515.33 684.58 517.59 685.18 518.49C685.78 519.4 686.99 521.51 687.59 522.11C688.19 522.71 689.52 523.24 690 523.31C690.48 523.39 691.04 523.16 691.45 522.71C691.85 522.26 692.73 520.23 693.25 519.7C693.78 519.17 694.98 518.8 695.66 518.49C696.34 518.19 698 517.7 698.67 517.29C699.35 516.88 700.48 515.54 701.08 515.24C701.69 514.94 702.89 514.77 703.49 514.88C704.1 514.98 705.3 515.98 705.9 516.08C706.51 516.19 707.71 515.62 708.31 515.72C708.92 515.83 710.05 516.84 710.72 516.93C711.4 517.02 713.06 516.66 713.73 516.45C714.41 516.23 715.47 514.98 716.14 515.24C716.82 515.5 718.33 518.04 719.16 518.49C719.98 518.95 721.94 518.9 722.77 518.86C723.6 518.81 725.03 518.25 725.78 518.13C726.54 518.01 728.04 518.15 728.8 517.89C729.55 517.64 731.05 516.36 731.81 516.08C732.56 515.81 734.07 515.53 734.82 515.72C735.57 515.92 737.08 517.5 737.83 517.65C738.58 517.8 739.94 517.17 740.84 516.93C741.75 516.69 744.08 515.83 745.06 515.72C746.04 515.62 747.85 515.84 748.67 516.08C749.5 516.33 750.93 517.24 751.69 517.65C752.44 518.06 753.95 519.38 754.7 519.34C755.45 519.29 757.03 517.5 757.71 517.29C758.39 517.08 759.44 517.76 760.12 517.65C760.8 517.55 762.38 516.54 763.13 516.45C763.89 516.36 765.39 516.9 766.14 516.93C766.9 516.96 768.4 516.84 769.16 516.69C769.91 516.54 771.79 515.84 772.17 515.72" stroke="#000"/>
</g>
<path class="tM" d="M500.2 610.5L500.2 616.7 M500.2 440.7L500.2 434.5 M554.56 610.5L554.56 616.7 M554.56 440.7L554.56 434.5 M608.92 610.5L608.92 616.7 M608.92 440.7L608.92 434.5 M663.28 610.5L663.28 616.7 M663.28 440.7L663.28 434.5 M717.64 610.5L717.64 616.7 M717.64 440.7L717.64 434.5 M772 610.5L772 616.7 M772 440.7L772 434.5 M500.2 610.5L494 610.5 M772 610.5L778.2 610.5 M500.2 585.34L494 585.34 M772 585.34L778.2 585.34 M500.2 560.19L494 560.19 M772 560.19L778.2 560.19 M500.2 535.03L494 535.03 M772 535.03L778.2 535.03 M500.2 509.88L494 509.88 M772 509.88L778.2 509.88 M500.2 484.72L494 484.72 M772 484.72L778.2 484.72 M500.2 459.57L494 459.57 M772 459.57L778.2 459.57"/>
<path class="tm" d="M513.79 610.5L513.79 613.7 M513.79 440.7L513.79 437.5 M527.38 610.5L527.38 613.7 M527.38 440.7L527.38 437.5 M540.97 610.5L540.97 613.7 M540.97 440.7L540.97 437.5 M568.15 610.5L568.15 613.7 M568.15 440.7L568.15 437.5 M581.74 610.5L581.74 613.7 M581.74 440.7L581.74 437.5 M595.33 610.5L595.33 613.7 M595.33 440.7L595.33 437.5 M622.51 610.5L622.51 613.7 M622.51 440.7L622.51 437.5 M636.1 610.5L636.1 613.7 M636.1 440.7L636.1 437.5 M649.69 610.5L649.69 613.7 M649.69 440.7L649.69 437.5 M676.87 610.5L676.87 613.7 M676.87 440.7L676.87 437.5 M690.46 610.5L690.46 613.7 M690.46 440.7L690.46 437.5 M704.05 610.5L704.05 613.7 M704.05 440.7L704.05 437.5 M731.23 610.5L731.23 613.7 M731.23 440.7L731.23 437.5 M744.82 610.5L744.82 613.7 M744.82 440.7L744.82 437.5 M758.41 610.5L758.41 613.7 M758.41 440.7L758.41 437.5 M500.2 604.21L497 604.21 M772 604.21L775.2 604.21 M500.2 597.92L497 597.92 M772 597.92L775.2 597.92 M500.2 591.63L497 591.63 M772 591.63L775.2 591.63 M500.2 579.06L497 579.06 M772 579.06L775.2 579.06 M500.2 572.77L497 572.77 M772 572.77L775.2 572.77 M500.2 566.48L497 566.48 M772 566.48L775.2 566.48 M500.2 553.9L497 553.9 M772 553.9L775.2 553.9 M500.2 547.61L497 547.61 M772 547.61L775.2 547.61 M500.2 541.32L497 541.32 M772 541.32L775.2 541.32 M500.2 528.74L497 528.74 M772 528.74L775.2 528.74 M500.2 522.46L497 522.46 M772 522.46L775.2 522.46 M500.2 516.17L497 516.17 M772 516.17L775.2 516.17 M500.2 503.59L497 503.59 M772 503.59L775.2 503.59 M500.2 497.3L497 497.3 M772 497.3L775.2 497.3 M500.2 491.01L497 491.01 M772 491.01L775.2 491.01 M500.2 478.43L497 478.43 M772 478.43L775.2 478.43 M500.2 472.14L497 472.14 M772 472.14L775.2 472.14 M500.2 465.86L497 465.86 M772 465.86L775.2 465.86 M500.2 453.28L497 453.28 M772 453.28L775.2 453.28 M500.2 446.99L497 446.99 M772 446.99L775.2 446.99 M500.2 440.7L497 440.7 M772 440.7L775.2 440.7"/>
<rect class="frame" x="500.2" y="440.7" width="271.8" height="169.8"/>
<text class="tl" x="500.2" y="631.2" text-anchor="middle" textLength="6.6" lengthAdjust="spacingAndGlyphs">0</text>
<text class="tl" x="554.56" y="631.2" text-anchor="middle" textLength="13.2" lengthAdjust="spacingAndGlyphs">20</text>
<text class="tl" x="608.92" y="631.2" text-anchor="middle" textLength="13.2" lengthAdjust="spacingAndGlyphs">40</text>
<text class="tl" x="663.28" y="631.2" text-anchor="middle" textLength="13.2" lengthAdjust="spacingAndGlyphs">60</text>
<text class="tl" x="717.64" y="631.2" text-anchor="middle" textLength="13.2" lengthAdjust="spacingAndGlyphs">80</text>
<text class="tl" x="772" y="631.2" text-anchor="middle" textLength="19.6" lengthAdjust="spacingAndGlyphs">100</text>
<text class="tl" x="487.8" y="614.5" text-anchor="end" textLength="26.2" lengthAdjust="spacingAndGlyphs">1280</text>
<text class="tl" x="487.8" y="589.34" text-anchor="end" textLength="26.2" lengthAdjust="spacingAndGlyphs">1320</text>
<text class="tl" x="487.8" y="564.19" text-anchor="end" textLength="26.2" lengthAdjust="spacingAndGlyphs">1360</text>
<text class="tl" x="487.8" y="539.03" text-anchor="end" textLength="26.2" lengthAdjust="spacingAndGlyphs">1400</text>
<text class="tl" x="487.8" y="513.88" text-anchor="end" textLength="26.2" lengthAdjust="spacingAndGlyphs">1440</text>
<text class="tl" x="487.8" y="488.72" text-anchor="end" textLength="26.2" lengthAdjust="spacingAndGlyphs">1480</text>
<text class="tl" x="487.8" y="463.57" text-anchor="end" textLength="26.2" lengthAdjust="spacingAndGlyphs">1520</text>
<text class="xt" y="648.4"><tspan x="605.7" textLength="33.9" lengthAdjust="spacingAndGlyphs">Time</tspan><tspan class="br" x="646.4">[</tspan><tspan class="tau" x="653.1" textLength="7.6" lengthAdjust="spacingAndGlyphs">&#964;</tspan><tspan class="br" x="661.7">]</tspan></text>
<text class="pt" x="772.9" y="434.6" text-anchor="end" textLength="23.1" lengthAdjust="spacingAndGlyphs">CAM</text>
<line class="ll" x1="524" y1="456.9" x2="542.2" y2="456.9" stroke="#000"/>
<text class="lt" x="543" y="460.1" textLength="15.4" lengthAdjust="spacingAndGlyphs">T85</text>
<line class="ll" x1="524" y1="469.4" x2="542.2" y2="469.4" stroke="#0000ff"/>
<text class="lt" x="543" y="472.6" textLength="16.0" lengthAdjust="spacingAndGlyphs">T42</text>
<line class="ll" x1="524" y1="481.8" x2="542.2" y2="481.8" stroke="#ff0000"/>
<text class="lt" x="543" y="485" textLength="14.9" lengthAdjust="spacingAndGlyphs">T21</text>
</g>
<g class="panel" id="p4">
<g class="data" clip-path="url(#clip4)">
<path d="M100.22 830.06C100.41 830.89 101.41 835.41 101.78 836.69C102.16 837.97 102.75 839.55 103.23 840.3C103.71 841.05 105.11 842.48 105.64 842.71C106.17 842.94 106.99 842.33 107.45 842.11C107.9 841.88 108.73 841.02 109.25 840.9C109.78 840.78 111.06 841.02 111.66 841.14C112.27 841.27 113.47 841.87 114.07 841.87C114.67 841.87 115.95 841.27 116.48 841.14C117.01 841.02 117.76 840.66 118.29 840.9C118.82 841.14 120.25 842.92 120.7 843.07C121.15 843.22 121.56 842.53 121.9 842.11C122.25 841.69 123.09 839.82 123.47 839.7C123.85 839.58 124.58 840.69 124.92 841.14C125.25 841.6 125.74 843.04 126.12 843.31C126.5 843.58 127.48 843.61 127.93 843.31C128.38 843.01 129.28 841.48 129.73 840.9C130.19 840.33 131.02 838.73 131.54 838.73C132.07 838.73 133.35 840.66 133.95 840.9C134.55 841.14 135.68 840.44 136.36 840.66C137.04 840.89 138.7 842.71 139.37 842.71C140.05 842.71 141.26 841.11 141.78 840.66C142.31 840.21 143.06 838.99 143.59 839.1C144.12 839.2 145.4 841.4 146 841.51C146.6 841.61 147.73 839.86 148.41 839.94C149.09 840.02 150.74 842.02 151.42 842.11C152.1 842.2 153.26 841.08 153.83 840.66C154.4 840.24 155.43 838.58 156 838.73C156.57 838.89 157.81 841.72 158.41 841.87C159.01 842.02 160.11 839.91 160.82 839.94C161.53 839.97 163.36 842.06 164.07 842.11C164.78 842.15 165.95 840.68 166.48 840.3C167.01 839.92 167.76 838.87 168.29 839.1C168.82 839.32 170.1 842 170.7 842.11C171.3 842.21 172.51 840.06 173.11 839.94C173.71 839.82 174.95 840.99 175.52 841.14C176.09 841.3 177.08 841.55 177.69 841.14C178.29 840.74 179.7 838.9 180.34 837.89C180.97 836.88 182.22 833.78 182.75 833.07C183.27 832.36 184.03 832.03 184.55 832.23C185.08 832.42 186.36 834.04 186.96 834.64C187.57 835.24 188.7 836.6 189.37 837.05C190.05 837.5 191.56 838.15 192.39 838.25C193.21 838.36 195.39 837.94 196 837.89C196.61 837.85 196.7 837.94 197.23 837.89C197.76 837.85 199.56 837.53 200.24 837.53C200.92 837.53 202.05 837.74 202.65 837.89C203.25 838.04 204.46 838.69 205.06 838.73C205.66 838.78 206.94 838.46 207.47 838.25C208 838.04 208.83 837.17 209.28 837.05C209.73 836.93 210.56 836.93 211.08 837.29C211.61 837.65 212.89 839.41 213.49 839.94C214.1 840.47 215.3 841.23 215.9 841.51C216.51 841.78 217.67 841.81 218.31 842.11C218.96 842.41 220.48 843.92 221.08 843.92C221.69 843.92 222.58 842.45 223.13 842.11C223.69 841.76 224.94 841.6 225.54 841.14C226.14 840.69 227.35 838.9 227.95 838.49C228.55 838.09 229.76 838.16 230.36 837.89C230.96 837.62 232.17 836.55 232.77 836.33C233.37 836.1 234.58 835.99 235.18 836.08C235.78 836.17 236.91 836.78 237.59 837.05C238.27 837.32 239.85 838.4 240.6 838.25C241.36 838.1 243.01 835.89 243.61 835.84C244.22 835.8 244.97 837.33 245.42 837.89C245.87 838.45 246.78 840 247.23 840.3C247.68 840.6 248.58 840.68 249.04 840.3C249.49 839.92 250.47 837.74 250.84 837.29C251.22 836.84 251.67 836.46 252.05 836.69C252.42 836.91 253.33 838.49 253.86 839.1C254.38 839.7 255.66 841.43 256.27 841.51C256.87 841.58 258.07 840.15 258.67 839.7C259.28 839.25 260.41 838.16 261.08 837.89C261.76 837.62 263.42 837.53 264.1 837.53C264.77 837.53 265.98 837.92 266.51 837.89C267.03 837.86 267.79 837.24 268.31 837.29C268.84 837.33 270.12 838.07 270.72 838.25C271.33 838.43 272.45 838.83 273.13 838.73C273.81 838.64 275.32 837.79 276.14 837.53C276.97 837.27 278.93 836.75 279.76 836.69C280.59 836.63 282.09 837.05 282.77 837.05C283.45 837.05 284.58 836.69 285.18 836.69C285.78 836.69 286.99 836.94 287.59 837.05C288.19 837.15 289.52 837.38 290 837.53C290.48 837.68 290.89 838.16 291.45 838.25C292 838.34 293.78 838.34 294.46 838.25C295.14 838.16 296.3 837.62 296.87 837.53C297.44 837.44 298.51 837.26 299.04 837.53C299.56 837.8 300.53 839.13 301.08 839.7C301.64 840.27 302.89 841.69 303.49 842.11C304.1 842.53 305.23 843.04 305.9 843.07C306.58 843.1 308.16 842.59 308.92 842.35C309.67 842.11 311.02 841.3 311.93 841.14C312.83 840.99 315.24 841.17 316.14 841.14C317.05 841.11 318.4 840.86 319.16 840.9C319.91 840.95 321.49 841.2 322.17 841.51C322.85 841.81 323.98 842.91 324.58 843.31C325.18 843.72 326.46 844.61 326.99 844.76C327.52 844.91 328.42 844.92 328.8 844.52C329.17 844.11 329.7 842.26 330 841.51C330.3 840.75 330.75 838.95 331.2 838.49C331.66 838.04 332.94 837.89 333.61 837.89C334.29 837.89 335.87 838.45 336.63 838.49C337.38 838.54 338.96 838.37 339.64 838.25C340.32 838.13 341.45 837.65 342.05 837.53C342.65 837.41 343.96 837.14 344.46 837.29C344.95 837.44 345.65 838.31 346.02 838.73C346.4 839.16 346.91 840.27 347.47 840.66C348.03 841.05 349.73 841.66 350.48 841.87C351.23 842.08 352.74 842.02 353.49 842.35C354.25 842.68 355.9 844.32 356.51 844.52C357.11 844.71 357.94 843.89 358.31 843.92C358.69 843.95 359.14 844.86 359.52 844.76C359.89 844.65 360.87 843.63 361.33 843.07C361.78 842.52 362.68 840.95 363.13 840.3C363.58 839.65 364.49 838.27 364.94 837.89C365.39 837.52 366.22 837.24 366.75 837.29C367.27 837.33 368.48 838.13 369.16 838.25C369.83 838.37 371.79 838.25 372.17 838.25" stroke="#ff0000"/>
<path d="M100.22 804.76C100.41 805.59 101.41 810.11 101.78 811.39C102.16 812.67 102.75 814.29 103.23 815C103.71 815.71 105.11 816.85 105.64 817.05C106.17 817.24 106.96 816.78 107.45 816.57C107.93 816.36 109.04 815.41 109.49 815.36C109.95 815.32 110.64 815.95 111.06 816.2C111.48 816.46 112.34 817.48 112.87 817.41C113.39 817.33 114.67 816.1 115.28 815.6C115.88 815.11 117.16 813.46 117.69 813.43C118.21 813.4 119.07 814.97 119.49 815.36C119.92 815.75 120.61 816.76 121.06 816.57C121.51 816.37 122.63 813.92 123.11 813.8C123.59 813.67 124.46 815.3 124.92 815.6C125.37 815.9 126.2 816.33 126.72 816.2C127.25 816.08 128.61 814.94 129.13 814.64C129.66 814.34 130.49 813.9 130.94 813.8C131.39 813.69 132.3 813.49 132.75 813.8C133.2 814.1 134.06 815.56 134.55 816.2C135.05 816.85 136.2 818.9 136.72 818.98C137.25 819.05 138.21 817.41 138.77 816.81C139.33 816.2 140.58 814.68 141.18 814.16C141.78 813.63 142.91 812.94 143.59 812.59C144.27 812.24 145.92 811.46 146.6 811.39C147.28 811.31 148.48 811.76 149.01 811.99C149.54 812.21 150.29 813.07 150.82 813.19C151.35 813.31 152.63 813.13 153.23 812.95C153.83 812.77 155.11 811.9 155.64 811.75C156.17 811.6 156.99 811.45 157.45 811.75C157.9 812.05 158.8 813.6 159.25 814.16C159.7 814.71 160.46 815.87 161.06 816.2C161.66 816.54 163.24 816.88 164.07 816.81C164.9 816.73 166.86 815.98 167.69 815.6C168.52 815.23 170.02 814.07 170.7 813.8C171.38 813.52 172.43 813.39 173.11 813.43C173.79 813.48 175.44 814.16 176.12 814.16C176.8 814.16 177.93 813.37 178.53 813.43C179.13 813.49 180.34 814.29 180.94 814.64C181.54 814.98 182.67 815.96 183.35 816.2C184.03 816.45 185.53 816.64 186.36 816.57C187.19 816.49 189.22 815.6 189.98 815.6C190.73 815.6 191.63 816.39 192.39 816.57C193.14 816.75 195.47 816.9 196 817.05C196.53 817.2 196.17 817.83 196.63 817.77C197.08 817.71 198.89 816.96 199.64 816.57C200.39 816.17 201.9 814.91 202.65 814.64C203.4 814.37 204.91 814.55 205.66 814.4C206.42 814.25 208.15 813.61 208.67 813.43C209.2 813.25 209.5 812.83 209.88 812.95C210.26 813.07 211.16 814.29 211.69 814.4C212.21 814.5 213.49 813.87 214.1 813.8C214.7 813.72 215.9 813.49 216.51 813.8C217.11 814.1 218.28 815.8 218.92 816.2C219.55 816.61 220.89 817.09 221.57 817.05C222.24 817 223.77 815.87 224.34 815.84C224.91 815.81 225.62 816.51 226.14 816.81C226.67 817.11 227.88 818.22 228.55 818.25C229.23 818.28 230.89 817.35 231.57 817.05C232.24 816.75 233.37 816.02 233.98 815.84C234.58 815.66 235.71 815.75 236.39 815.6C237.06 815.45 238.75 814.91 239.4 814.64C240.05 814.37 241.04 813.39 241.57 813.43C242.09 813.48 243.06 814.88 243.61 815C244.17 815.12 245.42 814.65 246.02 814.4C246.63 814.14 247.91 812.98 248.43 812.95C248.96 812.92 249.71 813.83 250.24 814.16C250.77 814.49 252.05 815.2 252.65 815.6C253.25 816.01 254.46 817.03 255.06 817.41C255.66 817.79 256.79 818.54 257.47 818.61C258.15 818.69 259.73 818.31 260.48 818.01C261.23 817.71 262.74 816.54 263.49 816.2C264.25 815.87 265.75 815.51 266.51 815.36C267.26 815.21 268.77 815 269.52 815C270.27 815 271.85 815.11 272.53 815.36C273.21 815.62 274.26 816.9 274.94 817.05C275.62 817.2 277.35 816.67 277.95 816.57C278.55 816.46 279.16 816.14 279.76 816.2C280.36 816.27 282.17 816.94 282.77 817.05C283.37 817.15 284.05 817.45 284.58 817.05C285.11 816.64 286.46 814.46 286.99 813.8C287.52 813.13 288.42 812 288.8 811.75C289.17 811.49 289.74 811.79 290 811.75C290.26 811.7 290.44 811.48 290.84 811.39C291.25 811.3 292.65 810.83 293.25 811.02C293.86 811.22 295.06 812.68 295.66 812.95C296.27 813.22 297.39 813.19 298.07 813.19C298.75 813.19 300.41 813.22 301.08 812.95C301.76 812.68 303 811.3 303.49 811.02C303.99 810.75 304.68 810.59 305.06 810.78C305.44 810.98 306.02 812.17 306.51 812.59C306.99 813.01 308.24 814.01 308.92 814.16C309.59 814.31 311.17 813.92 311.93 813.8C312.68 813.67 314.19 813.45 314.94 813.19C315.69 812.94 317.12 812.05 317.95 811.75C318.78 811.45 320.81 810.72 321.57 810.78C322.32 810.84 323.27 811.81 323.98 812.23C324.68 812.65 326.48 814.11 327.23 814.16C327.98 814.2 329.28 812.94 330 812.59C330.72 812.24 332.33 811.54 333.01 811.39C333.69 811.23 334.74 811.19 335.42 811.39C336.1 811.58 337.68 812.61 338.43 812.95C339.19 813.3 340.69 813.95 341.45 814.16C342.2 814.37 343.7 814.68 344.46 814.64C345.21 814.59 346.79 814.2 347.47 813.8C348.15 813.39 349.28 811.84 349.88 811.39C350.48 810.93 351.61 810.33 352.29 810.18C352.97 810.03 354.55 810.03 355.3 810.18C356.05 810.33 357.64 811.13 358.31 811.39C358.99 811.64 360.05 812.23 360.72 812.23C361.4 812.23 362.98 811.34 363.73 811.39C364.49 811.43 365.99 812.33 366.75 812.59C367.5 812.85 369.08 813.33 369.76 813.43C370.44 813.54 371.87 813.43 372.17 813.43" stroke="#0000ff"/>
<path d="M100.22 778.86C100.41 779.61 101.41 783.67 101.78 784.88C102.16 786.08 102.75 787.74 103.23 788.49C103.71 789.25 105.11 790.71 105.64 790.9C106.17 791.1 106.96 790.36 107.45 790.06C107.93 789.76 108.89 788.61 109.49 788.49C110.1 788.37 111.62 788.87 112.27 789.1C112.91 789.32 114.15 790.15 114.67 790.3C115.2 790.45 115.95 790.63 116.48 790.3C117.01 789.97 118.29 787.8 118.89 787.65C119.49 787.5 120.7 788.92 121.3 789.1C121.9 789.28 123.14 789.32 123.71 789.1C124.28 788.87 125.28 787.36 125.88 787.29C126.48 787.21 127.87 788.04 128.53 788.49C129.19 788.95 130.55 790.8 131.18 790.9C131.81 791.01 133.02 789.38 133.59 789.34C134.16 789.29 135.22 790.2 135.76 790.54C136.3 790.89 137.45 792.21 137.93 792.11C138.41 792 139.06 789.95 139.61 789.7C140.17 789.44 141.74 790.21 142.39 790.06C143.03 789.91 144.19 788.46 144.8 788.49C145.4 788.52 146.6 790.38 147.2 790.3C147.81 790.23 149.01 788.34 149.61 787.89C150.22 787.44 151.42 786.81 152.02 786.69C152.63 786.57 153.83 787.2 154.43 786.93C155.04 786.66 156.32 784.92 156.84 784.52C157.37 784.11 158.12 783.63 158.65 783.67C159.18 783.72 160.46 784.47 161.06 784.88C161.66 785.29 162.87 786.7 163.47 786.93C164.07 787.15 165.28 786.34 165.88 786.69C166.48 787.03 167.72 789.22 168.29 789.7C168.86 790.18 169.86 790.54 170.46 790.54C171.06 790.54 172.4 790.11 173.11 789.7C173.82 789.29 175.37 787.79 176.12 787.29C176.87 786.79 178.45 785.92 179.13 785.72C179.81 785.53 180.79 785.63 181.54 785.72C182.3 785.81 184.28 786.3 185.16 786.45C186.03 786.6 187.7 786.97 188.53 786.93C189.36 786.88 190.85 786.19 191.78 786.08C192.72 785.98 195.24 785.93 196 786.08C196.76 786.23 197.3 787.14 197.83 787.29C198.36 787.44 199.56 787.44 200.24 787.29C200.92 787.14 202.5 786.23 203.25 786.08C204.01 785.93 205.51 786.28 206.27 786.08C207.02 785.89 208.6 784.77 209.28 784.52C209.95 784.26 211.08 783.99 211.69 784.04C212.29 784.08 213.42 784.88 214.1 784.88C214.77 784.88 216.43 784.08 217.11 784.04C217.79 783.99 218.84 784.26 219.52 784.52C220.2 784.77 221.85 785.93 222.53 786.08C223.21 786.23 224.26 785.68 224.94 785.72C225.62 785.77 227.12 786.33 227.95 786.45C228.78 786.57 230.59 786.63 231.57 786.69C232.55 786.75 234.8 786.96 235.78 786.93C236.76 786.9 238.64 786.45 239.4 786.45C240.15 786.45 241.13 786.9 241.81 786.93C242.48 786.96 244.22 786.6 244.82 786.69C245.42 786.78 246.17 787.53 246.63 787.65C247.08 787.77 247.98 787.5 248.43 787.65C248.89 787.8 249.71 788.86 250.24 788.86C250.77 788.86 252.05 787.55 252.65 787.65C253.25 787.76 254.38 789.34 255.06 789.7C255.74 790.06 257.32 790.29 258.07 790.54C258.83 790.8 260.41 791.4 261.08 791.75C261.76 792.09 262.82 793.12 263.49 793.31C264.17 793.51 265.9 793.54 266.51 793.31C267.11 793.09 267.86 792.11 268.31 791.51C268.77 790.9 269.52 789.22 270.12 788.49C270.72 787.77 272.45 786.02 273.13 785.72C273.81 785.42 274.94 785.96 275.54 786.08C276.14 786.2 277.27 786.73 277.95 786.69C278.63 786.64 280.21 785.84 280.96 785.72C281.72 785.6 283.3 785.63 283.98 785.72C284.65 785.81 285.63 786.36 286.39 786.45C287.14 786.54 289.44 786.49 290 786.45C290.56 786.4 290.44 786.17 290.84 786.08C291.25 785.99 292.73 785.57 293.25 785.72C293.78 785.87 294.53 787.24 295.06 787.29C295.59 787.33 296.87 786.08 297.47 786.08C298.07 786.08 299.28 787.06 299.88 787.29C300.48 787.52 301.69 787.64 302.29 787.89C302.89 788.15 304.1 789.11 304.7 789.34C305.3 789.56 306.43 789.73 307.11 789.7C307.79 789.67 309.37 789.14 310.12 789.1C310.87 789.05 312.45 789.34 313.13 789.34C313.81 789.34 314.94 788.9 315.54 789.1C316.14 789.29 317.42 790.48 317.95 790.9C318.48 791.33 319.23 792.42 319.76 792.47C320.29 792.52 321.49 791.66 322.17 791.27C322.85 790.87 324.5 789.83 325.18 789.34C325.86 788.84 326.99 787.65 327.59 787.29C328.19 786.93 329.47 786.37 330 786.45C330.53 786.52 331.28 787.41 331.81 787.89C332.33 788.37 333.61 790.23 334.22 790.3C334.82 790.38 336.02 788.83 336.63 788.49C337.23 788.16 338.36 787.8 339.04 787.65C339.71 787.5 341.3 787.11 342.05 787.29C342.8 787.47 344.31 788.95 345.06 789.1C345.81 789.25 347.47 788.72 348.07 788.49C348.67 788.27 349.43 787.64 349.88 787.29C350.33 786.94 351.23 785.72 351.69 785.72C352.14 785.72 352.89 786.99 353.49 787.29C354.1 787.59 355.75 788.09 356.51 788.13C357.26 788.18 358.84 787.61 359.52 787.65C360.2 787.7 361.33 788.49 361.93 788.49C362.53 788.49 363.73 787.91 364.34 787.65C364.94 787.39 366.14 786.6 366.75 786.45C367.35 786.3 368.63 786.27 369.16 786.45C369.68 786.63 370.59 787.64 370.96 787.89C371.34 788.15 372.02 788.42 372.17 788.49" stroke="#000"/>
</g>
<path class="tM" d="M100.2 879.2L100.2 885.4 M100.2 709.4L100.2 703.2 M154.56 879.2L154.56 885.4 M154.56 709.4L154.56 703.2 M208.92 879.2L208.92 885.4 M208.92 709.4L208.92 703.2 M263.28 879.2L263.28 885.4 M263.28 709.4L263.28 703.2 M317.64 879.2L317.64 885.4 M317.64 709.4L317.64 703.2 M372 879.2L372 885.4 M372 709.4L372 703.2 M100.2 879.2L94 879.2 M372 879.2L378.2 879.2 M100.2 854.04L94 854.04 M372 854.04L378.2 854.04 M100.2 828.89L94 828.89 M372 828.89L378.2 828.89 M100.2 803.73L94 803.73 M372 803.73L378.2 803.73 M100.2 778.58L94 778.58 M372 778.58L378.2 778.58 M100.2 753.42L94 753.42 M372 753.42L378.2 753.42 M100.2 728.27L94 728.27 M372 728.27L378.2 728.27"/>
<path class="tm" d="M113.79 879.2L113.79 882.4 M113.79 709.4L113.79 706.2 M127.38 879.2L127.38 882.4 M127.38 709.4L127.38 706.2 M140.97 879.2L140.97 882.4 M140.97 709.4L140.97 706.2 M168.15 879.2L168.15 882.4 M168.15 709.4L168.15 706.2 M181.74 879.2L181.74 882.4 M181.74 709.4L181.74 706.2 M195.33 879.2L195.33 882.4 M195.33 709.4L195.33 706.2 M222.51 879.2L222.51 882.4 M222.51 709.4L222.51 706.2 M236.1 879.2L236.1 882.4 M236.1 709.4L236.1 706.2 M249.69 879.2L249.69 882.4 M249.69 709.4L249.69 706.2 M276.87 879.2L276.87 882.4 M276.87 709.4L276.87 706.2 M290.46 879.2L290.46 882.4 M290.46 709.4L290.46 706.2 M304.05 879.2L304.05 882.4 M304.05 709.4L304.05 706.2 M331.23 879.2L331.23 882.4 M331.23 709.4L331.23 706.2 M344.82 879.2L344.82 882.4 M344.82 709.4L344.82 706.2 M358.41 879.2L358.41 882.4 M358.41 709.4L358.41 706.2 M100.2 872.91L97 872.91 M372 872.91L375.2 872.91 M100.2 866.62L97 866.62 M372 866.62L375.2 866.62 M100.2 860.33L97 860.33 M372 860.33L375.2 860.33 M100.2 847.76L97 847.76 M372 847.76L375.2 847.76 M100.2 841.47L97 841.47 M372 841.47L375.2 841.47 M100.2 835.18L97 835.18 M372 835.18L375.2 835.18 M100.2 822.6L97 822.6 M372 822.6L375.2 822.6 M100.2 816.31L97 816.31 M372 816.31L375.2 816.31 M100.2 810.02L97 810.02 M372 810.02L375.2 810.02 M100.2 797.44L97 797.44 M372 797.44L375.2 797.44 M100.2 791.16L97 791.16 M372 791.16L375.2 791.16 M100.2 784.87L97 784.87 M372 784.87L375.2 784.87 M100.2 772.29L97 772.29 M372 772.29L375.2 772.29 M100.2 766L97 766 M372 766L375.2 766 M100.2 759.71L97 759.71 M372 759.71L375.2 759.71 M100.2 747.13L97 747.13 M372 747.13L375.2 747.13 M100.2 740.84L97 740.84 M372 740.84L375.2 740.84 M100.2 734.56L97 734.56 M372 734.56L375.2 734.56 M100.2 721.98L97 721.98 M372 721.98L375.2 721.98 M100.2 715.69L97 715.69 M372 715.69L375.2 715.69 M100.2 709.4L97 709.4 M372 709.4L375.2 709.4"/>
<rect class="frame" x="100.2" y="709.4" width="271.8" height="169.8"/>
<text class="tl" x="100.2" y="899.9" text-anchor="middle" textLength="6.6" lengthAdjust="spacingAndGlyphs">0</text>
<text class="tl" x="154.56" y="899.9" text-anchor="middle" textLength="13.2" lengthAdjust="spacingAndGlyphs">20</text>
<text class="tl" x="208.92" y="899.9" text-anchor="middle" textLength="13.2" lengthAdjust="spacingAndGlyphs">40</text>
<text class="tl" x="263.28" y="899.9" text-anchor="middle" textLength="13.2" lengthAdjust="spacingAndGlyphs">60</text>
<text class="tl" x="317.64" y="899.9" text-anchor="middle" textLength="13.2" lengthAdjust="spacingAndGlyphs">80</text>
<text class="tl" x="372" y="899.9" text-anchor="middle" textLength="19.6" lengthAdjust="spacingAndGlyphs">100</text>
<text class="tl" x="87.8" y="883.2" text-anchor="end" textLength="26.2" lengthAdjust="spacingAndGlyphs">1280</text>
<text class="tl" x="87.8" y="858.04" text-anchor="end" textLength="26.2" lengthAdjust="spacingAndGlyphs">1320</text>
<text class="tl" x="87.8" y="832.89" text-anchor="end" textLength="26.2" lengthAdjust="spacingAndGlyphs">1360</text>
<text class="tl" x="87.8" y="807.73" text-anchor="end" textLength="26.2" lengthAdjust="spacingAndGlyphs">1400</text>
<text class="tl" x="87.8" y="782.58" text-anchor="end" textLength="26.2" lengthAdjust="spacingAndGlyphs">1440</text>
<text class="tl" x="87.8" y="757.42" text-anchor="end" textLength="26.2" lengthAdjust="spacingAndGlyphs">1480</text>
<text class="tl" x="87.8" y="732.27" text-anchor="end" textLength="26.2" lengthAdjust="spacingAndGlyphs">1520</text>
<text class="xt" y="917.1"><tspan x="205.7" textLength="33.9" lengthAdjust="spacingAndGlyphs">Time</tspan><tspan class="br" x="246.4">[</tspan><tspan class="tau" x="253.1" textLength="7.6" lengthAdjust="spacingAndGlyphs">&#964;</tspan><tspan class="br" x="261.7">]</tspan></text>
<text class="yt" transform="translate(56.2 794.3) rotate(-90)"><tspan x="-44.1" textLength="68.5" lengthAdjust="spacingAndGlyphs">Temperature</tspan><tspan x="28.9" textLength="15.6" lengthAdjust="spacingAndGlyphs">[K]</tspan></text>
<text class="pt" y="701.2"><tspan x="300.4" textLength="43.8" lengthAdjust="spacingAndGlyphs">MITgcm</tspan><tspan x="351.1" textLength="22.0" lengthAdjust="spacingAndGlyphs">(LL)</tspan></text>
<line class="ll" x1="121" y1="721.9" x2="138.9" y2="721.9" stroke="#000"/>
<text class="lt" x="139.7" y="725.1" textLength="21.9" lengthAdjust="spacingAndGlyphs">G128</text>
<line class="ll" x1="121" y1="734.3" x2="138.9" y2="734.3" stroke="#0000ff"/>
<text class="lt" x="139.7" y="737.5" textLength="16.5" lengthAdjust="spacingAndGlyphs">G64</text>
<line class="ll" x1="121" y1="746.6" x2="138.9" y2="746.6" stroke="#ff0000"/>
<text class="lt" x="139.7" y="749.8" textLength="16.5" lengthAdjust="spacingAndGlyphs">G32</text>
</g>
<g class="panel" id="p5">
<g class="data" clip-path="url(#clip5)">
<path d="M500.22 833.07C500.41 833.9 501.41 838.34 501.78 839.7C502.16 841.05 502.75 843.09 503.23 843.92C503.71 844.74 505.11 846.17 505.64 846.33C506.17 846.48 506.96 845.42 507.45 845.12C507.93 844.82 508.97 844.07 509.49 843.92C510.02 843.77 511.09 843.81 511.66 843.92C512.23 844.02 513.39 844.76 514.07 844.76C514.75 844.76 516.48 843.95 517.08 843.92C517.69 843.89 518.44 844.26 518.89 844.52C519.34 844.77 520.25 846.11 520.7 845.96C521.15 845.81 522.05 844.07 522.51 843.31C522.96 842.56 523.89 840.02 524.31 839.94C524.73 839.86 525.5 841.96 525.88 842.71C526.26 843.46 526.87 845.51 527.33 845.96C527.78 846.42 528.97 846.58 529.49 846.33C530.02 846.07 531.03 844.47 531.54 843.92C532.05 843.36 532.99 841.94 533.59 841.87C534.19 841.79 535.79 843.16 536.36 843.31C536.93 843.46 537.64 842.85 538.17 843.07C538.7 843.3 539.98 845.09 540.58 845.12C541.18 845.15 542.46 843.77 542.99 843.31C543.52 842.86 544.22 841.39 544.8 841.51C545.37 841.63 546.92 844.17 547.57 844.28C548.21 844.38 549.34 842.39 549.98 842.35C550.61 842.3 551.99 843.83 552.63 843.92C553.26 844.01 554.43 843.3 555.04 843.07C555.64 842.85 556.84 841.9 557.45 842.11C558.05 842.32 559.22 844.68 559.86 844.76C560.49 844.83 561.75 842.67 562.51 842.71C563.26 842.76 565.04 845.12 565.88 845.12C566.72 845.12 568.5 842.71 569.25 842.71C570.01 842.71 571.2 845.08 571.9 845.12C572.61 845.17 574.09 843.12 574.92 843.07C575.74 843.03 577.7 844.8 578.53 844.76C579.36 844.71 580.98 842.92 581.54 842.71C582.1 842.5 582.54 843.48 582.99 843.07C583.44 842.67 584.51 840 585.16 839.46C585.8 838.92 587.42 838.7 588.17 838.73C588.92 838.77 590.2 839.46 591.18 839.7C592.16 839.94 595.24 840.51 596 840.66C596.76 840.81 596.7 840.84 597.23 840.9C597.76 840.96 599.49 841.45 600.24 841.14C600.99 840.84 602.5 838.55 603.25 838.49C604.01 838.43 605.51 840.36 606.27 840.66C607.02 840.96 608.52 841.02 609.28 840.9C610.03 840.78 611.54 840.03 612.29 839.7C613.04 839.37 614.55 838.28 615.3 838.25C616.05 838.22 617.56 839.25 618.31 839.46C619.07 839.67 620.68 839.73 621.33 839.94C621.97 840.15 622.97 841.25 623.49 841.14C624.02 841.04 624.98 839.43 625.54 839.1C626.1 838.77 627.35 838.42 627.95 838.49C628.55 838.57 629.83 839.62 630.36 839.7C630.89 839.77 631.64 839.07 632.17 839.1C632.7 839.13 633.98 839.89 634.58 839.94C635.18 839.98 636.46 839.64 636.99 839.46C637.52 839.28 638.27 838.49 638.8 838.49C639.32 838.49 640.6 839.43 641.2 839.46C641.81 839.49 642.94 838.93 643.61 838.73C644.29 838.54 645.95 837.95 646.63 837.89C647.3 837.83 648.43 838.15 649.04 838.25C649.64 838.36 650.84 838.63 651.45 838.73C652.05 838.84 653.25 839.1 653.86 839.1C654.46 839.1 655.59 838.96 656.27 838.73C656.94 838.51 658.52 837.5 659.28 837.29C660.03 837.08 661.54 837.02 662.29 837.05C663.04 837.08 664.55 837.27 665.3 837.53C666.05 837.79 667.48 839.01 668.31 839.1C669.14 839.19 671.17 838.03 671.93 838.25C672.68 838.48 673.73 840.35 674.34 840.9C674.94 841.46 676.11 842.83 676.75 842.71C677.38 842.59 678.72 840.05 679.4 839.94C680.08 839.83 681.52 841.78 682.17 841.87C682.82 841.96 684.05 840.86 684.58 840.66C685.11 840.47 685.86 840.12 686.39 840.3C686.91 840.48 688.34 841.81 688.8 842.11C689.25 842.41 689.67 842.48 690 842.71C690.33 842.94 690.96 843.72 691.45 843.92C691.93 844.11 693.25 844.43 693.86 844.28C694.46 844.13 695.77 843.1 696.27 842.71C696.76 842.32 697.45 841.25 697.83 841.14C698.21 841.04 698.87 841.9 699.28 841.87C699.68 841.84 700.56 840.99 701.08 840.9C701.61 840.81 702.94 841.27 703.49 841.14C704.05 841.02 705.05 840.57 705.54 839.94C706.04 839.31 707.02 836.75 707.47 836.08C707.92 835.42 708.75 834.71 709.16 834.64C709.56 834.56 710.3 835 710.72 835.48C711.14 835.96 712 837.74 712.53 838.49C713.06 839.25 714.34 840.93 714.94 841.51C715.54 842.08 716.75 843 717.35 843.07C717.95 843.15 719.16 842.45 719.76 842.11C720.36 841.76 721.64 840.72 722.17 840.3C722.7 839.88 723.45 839.04 723.98 838.73C724.5 838.43 725.86 838.22 726.39 837.89C726.91 837.56 727.79 836.34 728.19 836.08C728.6 835.83 729.26 835.62 729.64 835.84C730.02 836.07 730.78 837.41 731.2 837.89C731.63 838.37 732.41 839.32 733.01 839.7C733.61 840.08 735.27 840.63 736.02 840.9C736.78 841.17 738.36 842.02 739.04 841.87C739.71 841.72 740.84 840.27 741.45 839.7C742.05 839.13 743.25 837.82 743.86 837.29C744.46 836.76 745.74 835.71 746.27 835.48C746.79 835.26 747.55 835.18 748.07 835.48C748.6 835.78 749.88 837.36 750.48 837.89C751.08 838.42 752.33 839.32 752.89 839.7C753.45 840.08 754.34 841.02 754.94 840.9C755.54 840.78 756.99 839.37 757.71 838.73C758.43 838.1 760.05 836.33 760.72 835.84C761.4 835.36 762.61 834.82 763.13 834.88C763.66 834.94 764.46 835.84 764.94 836.33C765.42 836.81 766.49 838.24 766.99 838.73C767.48 839.23 768.42 840.21 768.92 840.3C769.41 840.39 770.56 839.61 770.96 839.46C771.37 839.31 772.02 839.14 772.17 839.1" stroke="#ff0000"/>
<path d="M500.22 804.76C500.41 805.59 501.41 810.11 501.78 811.39C502.16 812.67 502.75 814.29 503.23 815C503.71 815.71 505.11 816.9 505.64 817.05C506.17 817.2 506.96 816.51 507.45 816.2C507.93 815.9 509.04 814.71 509.49 814.64C509.95 814.56 510.64 815.3 511.06 815.6C511.48 815.9 512.34 817.12 512.87 817.05C513.39 816.97 514.67 815.51 515.28 815C515.88 814.49 517.16 813.06 517.69 812.95C518.21 812.85 519.12 813.95 519.49 814.16C519.87 814.37 520.2 814.76 520.7 814.64C521.2 814.52 522.82 813.04 523.47 813.19C524.12 813.34 525.37 815.72 525.88 815.84C526.39 815.96 527.08 814.37 527.57 814.16C528.05 813.95 529.16 813.9 529.73 814.16C530.31 814.41 531.51 815.95 532.14 816.2C532.78 816.46 534.19 816.51 534.8 816.2C535.4 815.9 536.39 814.1 536.96 813.8C537.54 813.49 538.77 813.69 539.37 813.8C539.98 813.9 541.11 814.26 541.78 814.64C542.46 815.02 544.12 816.72 544.8 816.81C545.47 816.9 546.38 815.48 547.2 815.36C548.03 815.24 550.52 815.96 551.42 815.84C552.33 815.72 553.68 814.7 554.43 814.4C555.19 814.1 556.84 813.46 557.45 813.43C558.05 813.4 558.73 814.26 559.25 814.16C559.78 814.05 561.06 812.89 561.66 812.59C562.27 812.29 563.55 811.67 564.07 811.75C564.6 811.82 565.35 812.71 565.88 813.19C566.41 813.67 567.66 815.03 568.29 815.6C568.92 816.17 570.26 817.62 570.94 817.77C571.62 817.92 573.06 817.08 573.71 816.81C574.36 816.54 575.59 815.9 576.12 815.6C576.65 815.3 577.48 814.52 577.93 814.4C578.38 814.28 579.28 814.76 579.73 814.64C580.19 814.52 580.94 813.64 581.54 813.43C582.14 813.22 583.8 813.21 584.55 812.95C585.31 812.7 586.96 811.43 587.57 811.39C588.17 811.34 588.92 812.36 589.37 812.59C589.83 812.82 590.65 813.49 591.18 813.19C591.71 812.89 593.06 810.48 593.59 810.18C594.12 809.88 595.02 810.41 595.4 810.78C595.78 811.16 596.22 812.56 596.63 813.19C597.04 813.83 598.15 815.77 598.67 815.84C599.2 815.92 600.27 814.35 600.84 813.8C601.42 813.24 602.65 811.76 603.25 811.39C603.86 811.01 605.06 810.63 605.66 810.78C606.27 810.93 607.55 812.29 608.07 812.59C608.6 812.89 609.43 813.19 609.88 813.19C610.33 813.19 611.28 812.47 611.69 812.59C612.09 812.71 612.65 814.41 613.13 814.16C613.61 813.9 615 810.84 615.54 810.54C616.08 810.24 616.97 811.57 617.47 811.75C617.97 811.93 618.96 812.14 619.52 811.99C620.08 811.84 621.17 810.87 621.93 810.54C622.68 810.21 624.64 809.38 625.54 809.34C626.45 809.29 628.33 809.73 629.16 810.18C629.98 810.63 631.46 812.42 632.17 812.95C632.88 813.48 634.14 814.34 634.82 814.4C635.5 814.46 636.94 813.4 637.59 813.43C638.24 813.46 639.44 814.4 640 814.64C640.56 814.88 641.45 815.51 642.05 815.36C642.65 815.21 644.1 813.86 644.82 813.43C645.54 813.01 647.08 812.39 647.83 811.99C648.58 811.58 650.09 810.63 650.84 810.18C651.6 809.73 653.1 808.67 653.86 808.37C654.61 808.07 656.19 807.85 656.87 807.77C657.55 807.7 658.67 807.67 659.28 807.77C659.88 807.88 661.04 808.72 661.69 808.61C662.33 808.51 663.86 806.88 664.46 806.93C665.06 806.97 666.02 808.34 666.51 808.98C666.99 809.61 667.86 811.49 668.31 811.99C668.77 812.48 669.59 813.03 670.12 812.95C670.65 812.88 672 811.43 672.53 811.39C673.06 811.34 673.73 812.59 674.34 812.59C674.94 812.59 676.52 811.61 677.35 811.39C678.18 811.16 680.06 810.86 680.96 810.78C681.87 810.71 683.75 810.86 684.58 810.78C685.41 810.71 686.91 810.45 687.59 810.18C688.27 809.91 689.59 808.81 690 808.61C690.41 808.42 690.36 808.52 690.84 808.61C691.33 808.7 693.03 809.1 693.86 809.34C694.68 809.58 696.72 810.33 697.47 810.54C698.22 810.75 699.35 811.02 699.88 811.02C700.41 811.02 701.16 810.54 701.69 810.54C702.21 810.54 703.49 810.92 704.1 811.02C704.7 811.13 705.98 811.54 706.51 811.39C707.03 811.23 707.71 810.12 708.31 809.82C708.92 809.52 710.65 809.38 711.33 808.98C712 808.57 713.16 807.06 713.73 806.57C714.31 806.07 715.45 805 715.9 805C716.36 805 716.99 806.22 717.35 806.57C717.71 806.91 718.27 807.88 718.8 807.77C719.32 807.67 720.84 806.02 721.57 805.72C722.29 805.42 723.98 805.11 724.58 805.36C725.18 805.62 725.86 807.12 726.39 807.77C726.91 808.42 728.27 810.02 728.8 810.54C729.32 811.07 729.92 811.84 730.6 811.99C731.28 812.14 733.46 811.97 734.22 811.75C734.97 811.52 735.95 810.72 736.63 810.18C737.3 809.64 738.96 808.06 739.64 807.41C740.32 806.76 741.52 805.41 742.05 805C742.58 804.59 743.33 804.01 743.86 804.16C744.38 804.31 745.59 805.65 746.27 806.2C746.94 806.76 748.45 808.01 749.28 808.61C750.11 809.22 752.14 810.93 752.89 811.02C753.64 811.11 754.62 809.94 755.3 809.34C755.98 808.73 757.67 806.81 758.31 806.2C758.96 805.6 759.88 804.47 760.48 804.52C761.08 804.56 762.47 805.96 763.13 806.57C763.8 807.17 765.18 808.78 765.78 809.34C766.39 809.89 767.45 811.07 767.95 811.02C768.45 810.98 769.31 809.43 769.76 808.98C770.21 808.52 771.34 807.61 771.57 807.41" stroke="#0000ff"/>
<path d="M500.22 778.86C500.41 779.61 501.41 783.6 501.78 784.88C502.16 786.16 502.75 788.27 503.23 789.1C503.71 789.92 505.11 791.36 505.64 791.51C506.17 791.66 506.96 790.68 507.45 790.3C507.93 789.92 508.97 788.64 509.49 788.49C510.02 788.34 511.09 788.9 511.66 789.1C512.23 789.29 513.47 789.88 514.07 790.06C514.67 790.24 515.88 790.84 516.48 790.54C517.08 790.24 518.36 787.98 518.89 787.65C519.42 787.32 520.17 787.74 520.7 787.89C521.23 788.04 522.58 788.78 523.11 788.86C523.64 788.93 524.39 788.69 524.92 788.49C525.44 788.3 526.75 787.24 527.33 787.29C527.9 787.33 529.01 788.66 529.49 788.86C529.98 789.05 530.7 789.13 531.18 788.86C531.66 788.58 532.7 787.33 533.35 786.69C534 786.04 535.61 784.13 536.36 783.67C537.11 783.22 538.7 783 539.37 783.07C540.05 783.15 541.11 783.98 541.78 784.28C542.46 784.58 544.12 785.3 544.8 785.48C545.47 785.66 546.6 785.75 547.2 785.72C547.81 785.69 549.01 785.24 549.61 785.24C550.22 785.24 551.42 785.51 552.02 785.72C552.63 785.93 553.76 786.93 554.43 786.93C555.11 786.93 556.69 785.72 557.45 785.72C558.2 785.72 559.7 786.73 560.46 786.93C561.21 787.12 562.64 787.2 563.47 787.29C564.3 787.38 566.18 787.65 567.08 787.65C567.99 787.65 569.8 787.29 570.7 787.29C571.6 787.29 573.41 787.73 574.31 787.65C575.22 787.58 577.17 786.81 577.93 786.69C578.68 786.57 579.66 786.54 580.34 786.69C581.02 786.84 582.52 787.71 583.35 787.89C584.18 788.07 586.14 788.25 586.96 788.13C587.79 788.01 589.3 786.88 589.98 786.93C590.65 786.97 591.63 788.19 592.39 788.49C593.14 788.8 595.17 789.38 596 789.34C596.83 789.29 598.43 788.24 599.04 788.13C599.64 788.03 600.47 788.6 600.84 788.49C601.22 788.39 601.72 787.06 602.05 787.29C602.38 787.52 603.12 789.65 603.49 790.3C603.87 790.95 604.64 792.44 605.06 792.47C605.48 792.5 606.34 790.96 606.87 790.54C607.39 790.12 608.6 789.31 609.28 789.1C609.95 788.89 611.54 788.83 612.29 788.86C613.04 788.89 614.55 789.46 615.3 789.34C616.05 789.22 617.56 788.15 618.31 787.89C619.07 787.64 620.57 787.67 621.33 787.29C622.08 786.91 623.66 785.29 624.34 784.88C625.02 784.47 626.19 784.11 626.75 784.04C627.3 783.96 628.34 783.98 628.8 784.28C629.25 784.58 629.94 785.84 630.36 786.45C630.78 787.05 631.57 788.77 632.17 789.1C632.77 789.43 634.5 789.02 635.18 789.1C635.86 789.17 637.03 789.88 637.59 789.7C638.15 789.52 639.11 788.15 639.64 787.65C640.17 787.15 641.16 786.02 641.81 785.72C642.45 785.42 644.07 785.2 644.82 785.24C645.57 785.29 647.08 786.05 647.83 786.08C648.58 786.11 650.17 785.48 650.84 785.48C651.52 785.48 652.65 786.16 653.25 786.08C653.86 786.01 654.91 785.03 655.66 784.88C656.42 784.73 658.45 784.83 659.28 784.88C660.11 784.92 661.54 785.05 662.29 785.24C663.04 785.44 664.55 786.19 665.3 786.45C666.05 786.7 667.64 787.18 668.31 787.29C668.99 787.39 670.12 787.14 670.72 787.29C671.33 787.44 672.53 788.45 673.13 788.49C673.73 788.54 674.86 787.7 675.54 787.65C676.22 787.61 677.73 788.13 678.55 788.13C679.38 788.13 681.42 787.61 682.17 787.65C682.92 787.7 684.08 788.58 684.58 788.49C685.08 788.4 685.8 786.93 686.14 786.93C686.49 786.93 686.87 788.3 687.35 788.49C687.83 788.69 689.26 788.42 690 788.49C690.74 788.57 692.47 789.17 693.25 789.1C694.04 789.02 695.44 787.97 696.27 787.89C697.09 787.82 699.05 788.57 699.88 788.49C700.71 788.42 702.14 787.52 702.89 787.29C703.64 787.06 705.15 786.84 705.9 786.69C706.66 786.54 708.16 786.2 708.92 786.08C709.67 785.96 711.25 785.53 711.93 785.72C712.61 785.92 713.73 787.11 714.34 787.65C714.94 788.19 716.19 789.7 716.75 790.06C717.3 790.42 718.19 790.63 718.8 790.54C719.4 790.45 720.92 789.64 721.57 789.34C722.21 789.04 723.37 788.46 723.98 788.13C724.58 787.8 725.71 786.87 726.39 786.69C727.06 786.51 728.72 786.81 729.4 786.69C730.08 786.57 731.13 785.8 731.81 785.72C732.48 785.65 734.07 785.93 734.82 786.08C735.57 786.23 737.15 787 737.83 786.93C738.51 786.85 739.64 785.66 740.24 785.48C740.84 785.3 742.05 785.48 742.65 785.48C743.25 785.48 744.43 785.21 745.06 785.48C745.69 785.75 747.11 787.47 747.71 787.65C748.31 787.83 749.34 787.08 749.88 786.93C750.42 786.78 751.52 786.3 752.05 786.45C752.58 786.6 753.58 787.77 754.1 788.13C754.61 788.49 755.54 789.34 756.14 789.34C756.75 789.34 758.19 788.49 758.92 788.13C759.64 787.77 761.25 786.78 761.93 786.45C762.61 786.11 763.81 785.53 764.34 785.48C764.86 785.44 765.69 785.75 766.14 786.08C766.6 786.42 767.42 787.68 767.95 788.13C768.48 788.58 769.83 789.35 770.36 789.7C770.89 790.05 771.94 790.75 772.17 790.9" stroke="#000"/>
</g>
<path class="tM" d="M500.2 879.2L500.2 885.4 M500.2 709.4L500.2 703.2 M554.56 879.2L554.56 885.4 M554.56 709.4L554.56 703.2 M608.92 879.2L608.92 885.4 M608.92 709.4L608.92 703.2 M663.28 879.2L663.28 885.4 M663.28 709.4L663.28 703.2 M717.64 879.2L717.64 885.4 M717.64 709.4L717.64 703.2 M772 879.2L772 885.4 M772 709.4L772 703.2 M500.2 879.2L494 879.2 M772 879.2L778.2 879.2 M500.2 854.04L494 854.04 M772 854.04L778.2 854.04 M500.2 828.89L494 828.89 M772 828.89L778.2 828.89 M500.2 803.73L494 803.73 M772 803.73L778.2 803.73 M500.2 778.58L494 778.58 M772 778.58L778.2 778.58 M500.2 753.42L494 753.42 M772 753.42L778.2 753.42 M500.2 728.27L494 728.27 M772 728.27L778.2 728.27"/>
<path class="tm" d="M513.79 879.2L513.79 882.4 M513.79 709.4L513.79 706.2 M527.38 879.2L527.38 882.4 M527.38 709.4L527.38 706.2 M540.97 879.2L540.97 882.4 M540.97 709.4L540.97 706.2 M568.15 879.2L568.15 882.4 M568.15 709.4L568.15 706.2 M581.74 879.2L581.74 882.4 M581.74 709.4L581.74 706.2 M595.33 879.2L595.33 882.4 M595.33 709.4L595.33 706.2 M622.51 879.2L622.51 882.4 M622.51 709.4L622.51 706.2 M636.1 879.2L636.1 882.4 M636.1 709.4L636.1 706.2 M649.69 879.2L649.69 882.4 M649.69 709.4L649.69 706.2 M676.87 879.2L676.87 882.4 M676.87 709.4L676.87 706.2 M690.46 879.2L690.46 882.4 M690.46 709.4L690.46 706.2 M704.05 879.2L704.05 882.4 M704.05 709.4L704.05 706.2 M731.23 879.2L731.23 882.4 M731.23 709.4L731.23 706.2 M744.82 879.2L744.82 882.4 M744.82 709.4L744.82 706.2 M758.41 879.2L758.41 882.4 M758.41 709.4L758.41 706.2 M500.2 872.91L497 872.91 M772 872.91L775.2 872.91 M500.2 866.62L497 866.62 M772 866.62L775.2 866.62 M500.2 860.33L497 860.33 M772 860.33L775.2 860.33 M500.2 847.76L497 847.76 M772 847.76L775.2 847.76 M500.2 841.47L497 841.47 M772 841.47L775.2 841.47 M500.2 835.18L497 835.18 M772 835.18L775.2 835.18 M500.2 822.6L497 822.6 M772 822.6L775.2 822.6 M500.2 816.31L497 816.31 M772 816.31L775.2 816.31 M500.2 810.02L497 810.02 M772 810.02L775.2 810.02 M500.2 797.44L497 797.44 M772 797.44L775.2 797.44 M500.2 791.16L497 791.16 M772 791.16L775.2 791.16 M500.2 784.87L497 784.87 M772 784.87L775.2 784.87 M500.2 772.29L497 772.29 M772 772.29L775.2 772.29 M500.2 766L497 766 M772 766L775.2 766 M500.2 759.71L497 759.71 M772 759.71L775.2 759.71 M500.2 747.13L497 747.13 M772 747.13L775.2 747.13 M500.2 740.84L497 740.84 M772 740.84L775.2 740.84 M500.2 734.56L497 734.56 M772 734.56L775.2 734.56 M500.2 721.98L497 721.98 M772 721.98L775.2 721.98 M500.2 715.69L497 715.69 M772 715.69L775.2 715.69 M500.2 709.4L497 709.4 M772 709.4L775.2 709.4"/>
<rect class="frame" x="500.2" y="709.4" width="271.8" height="169.8"/>
<text class="tl" x="500.2" y="899.9" text-anchor="middle" textLength="6.6" lengthAdjust="spacingAndGlyphs">0</text>
<text class="tl" x="554.56" y="899.9" text-anchor="middle" textLength="13.2" lengthAdjust="spacingAndGlyphs">20</text>
<text class="tl" x="608.92" y="899.9" text-anchor="middle" textLength="13.2" lengthAdjust="spacingAndGlyphs">40</text>
<text class="tl" x="663.28" y="899.9" text-anchor="middle" textLength="13.2" lengthAdjust="spacingAndGlyphs">60</text>
<text class="tl" x="717.64" y="899.9" text-anchor="middle" textLength="13.2" lengthAdjust="spacingAndGlyphs">80</text>
<text class="tl" x="772" y="899.9" text-anchor="middle" textLength="19.6" lengthAdjust="spacingAndGlyphs">100</text>
<text class="tl" x="487.8" y="883.2" text-anchor="end" textLength="26.2" lengthAdjust="spacingAndGlyphs">1280</text>
<text class="tl" x="487.8" y="858.04" text-anchor="end" textLength="26.2" lengthAdjust="spacingAndGlyphs">1320</text>
<text class="tl" x="487.8" y="832.89" text-anchor="end" textLength="26.2" lengthAdjust="spacingAndGlyphs">1360</text>
<text class="tl" x="487.8" y="807.73" text-anchor="end" textLength="26.2" lengthAdjust="spacingAndGlyphs">1400</text>
<text class="tl" x="487.8" y="782.58" text-anchor="end" textLength="26.2" lengthAdjust="spacingAndGlyphs">1440</text>
<text class="tl" x="487.8" y="757.42" text-anchor="end" textLength="26.2" lengthAdjust="spacingAndGlyphs">1480</text>
<text class="tl" x="487.8" y="732.27" text-anchor="end" textLength="26.2" lengthAdjust="spacingAndGlyphs">1520</text>
<text class="xt" y="917.1"><tspan x="605.7" textLength="33.9" lengthAdjust="spacingAndGlyphs">Time</tspan><tspan class="br" x="646.4">[</tspan><tspan class="tau" x="653.1" textLength="7.6" lengthAdjust="spacingAndGlyphs">&#964;</tspan><tspan class="br" x="661.7">]</tspan></text>
<text class="pt" y="701.2"><tspan x="698.5" textLength="44.0" lengthAdjust="spacingAndGlyphs">MITgcm</tspan><tspan x="749.1" textLength="24.0" lengthAdjust="spacingAndGlyphs">(CS)</tspan></text>
<line class="ll" x1="523.8" y1="721.9" x2="541.6" y2="721.9" stroke="#000"/>
<text class="lt" x="542.4" y="725.1" textLength="16.0" lengthAdjust="spacingAndGlyphs">C64</text>
<line class="ll" x1="523.8" y1="734.3" x2="541.6" y2="734.3" stroke="#0000ff"/>
<text class="lt" x="542.4" y="737.5" textLength="16.0" lengthAdjust="spacingAndGlyphs">C32</text>
<line class="ll" x1="523.8" y1="746.6" x2="541.6" y2="746.6" stroke="#ff0000"/>
<text class="lt" x="542.4" y="749.8" textLength="16.0" lengthAdjust="spacingAndGlyphs">C16</text>
</g>
</svg>
</body>
</html>
